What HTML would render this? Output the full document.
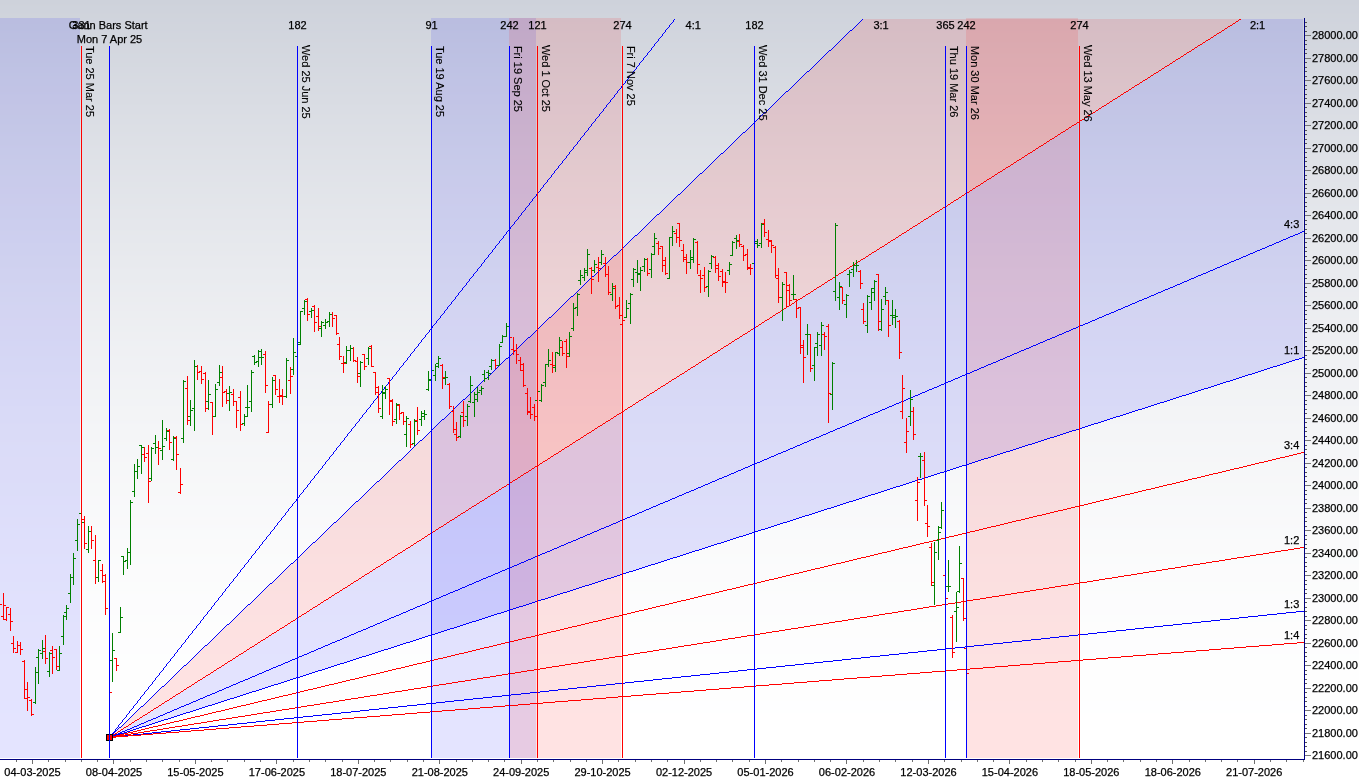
<!DOCTYPE html><html><head><meta charset="utf-8"><title>Gann Chart</title>
<style>html,body{margin:0;padding:0;background:#fff;overflow:hidden;width:1359px;height:778px}svg{display:block}text{font-family:'Liberation Sans',Arial,sans-serif;font-size:11px;fill:#000;stroke:#000;stroke-width:0.25px}text.v{stroke-width:0.12px}</style></head><body>
<svg width="1359" height="778" viewBox="0 0 1359 778">
<defs>
<clipPath id="plot"><rect x="0" y="18" width="1304" height="740"/></clipPath>
<clipPath id="fanclip"><rect x="0" y="19" width="1303" height="739"/></clipPath></defs>
<rect x="0" y="0" width="1359" height="4" fill="#ced2db"/><rect x="0" y="4" width="1359" height="1" fill="#cfd2db"/><rect x="0" y="5" width="1359" height="1" fill="#cfd3db"/><rect x="0" y="6" width="1359" height="7" fill="#cfd3dc"/><rect x="0" y="13" width="1359" height="1" fill="#d0d3dc"/><rect x="0" y="14" width="1359" height="4" fill="#d0d4dc"/><rect x="0" y="18" width="1359" height="4" fill="#d0d4dd"/><rect x="0" y="22" width="1359" height="2" fill="#d1d4dd"/><rect x="0" y="24" width="1359" height="6" fill="#d1d5dd"/><rect x="0" y="30" width="1359" height="1" fill="#d1d5de"/><rect x="0" y="31" width="1359" height="2" fill="#d2d5de"/><rect x="0" y="33" width="1359" height="6" fill="#d2d6de"/><rect x="0" y="39" width="1359" height="3" fill="#d3d6de"/><rect x="0" y="42" width="1359" height="1" fill="#d3d6df"/><rect x="0" y="43" width="1359" height="5" fill="#d3d7df"/><rect x="0" y="48" width="1359" height="5" fill="#d4d7df"/><rect x="0" y="53" width="1359" height="1" fill="#d4d8df"/><rect x="0" y="54" width="1359" height="4" fill="#d4d8e0"/><rect x="0" y="58" width="1359" height="5" fill="#d5d8e0"/><rect x="0" y="63" width="1359" height="4" fill="#d5d9e0"/><rect x="0" y="67" width="1359" height="6" fill="#d6d9e1"/><rect x="0" y="73" width="1359" height="3" fill="#d6dae1"/><rect x="0" y="76" width="1359" height="3" fill="#d7dae1"/><rect x="0" y="79" width="1359" height="4" fill="#d7dae2"/><rect x="0" y="83" width="1359" height="3" fill="#d7dbe2"/><rect x="0" y="86" width="1359" height="6" fill="#d8dbe2"/><rect x="0" y="92" width="1359" height="2" fill="#d8dbe3"/><rect x="0" y="94" width="1359" height="1" fill="#d8dce3"/><rect x="0" y="95" width="1359" height="9" fill="#d9dce3"/><rect x="0" y="104" width="1359" height="1" fill="#d9dde3"/><rect x="0" y="105" width="1359" height="9" fill="#dadde4"/><rect x="0" y="114" width="1359" height="1" fill="#dbdde4"/><rect x="0" y="115" width="1359" height="4" fill="#dbdee4"/><rect x="0" y="119" width="1359" height="5" fill="#dbdee5"/><rect x="0" y="124" width="1359" height="1" fill="#dcdee5"/><rect x="0" y="125" width="1359" height="7" fill="#dcdfe5"/><rect x="0" y="132" width="1359" height="2" fill="#dcdfe6"/><rect x="0" y="134" width="1359" height="2" fill="#dddfe6"/><rect x="0" y="136" width="1359" height="9" fill="#dde0e6"/><rect x="0" y="145" width="1359" height="1" fill="#dee0e6"/><rect x="0" y="146" width="1359" height="2" fill="#dee0e7"/><rect x="0" y="148" width="1359" height="7" fill="#dee1e7"/><rect x="0" y="155" width="1359" height="4" fill="#dfe1e7"/><rect x="0" y="159" width="1359" height="1" fill="#dfe2e7"/><rect x="0" y="160" width="1359" height="5" fill="#dfe2e8"/><rect x="0" y="165" width="1359" height="5" fill="#e0e2e8"/><rect x="0" y="170" width="1359" height="5" fill="#e0e3e8"/><rect x="0" y="175" width="1359" height="1" fill="#e0e3e9"/><rect x="0" y="176" width="1359" height="6" fill="#e1e3e9"/><rect x="0" y="182" width="1359" height="5" fill="#e1e4e9"/><rect x="0" y="187" width="1359" height="2" fill="#e2e4e9"/><rect x="0" y="189" width="1359" height="5" fill="#e2e4ea"/><rect x="0" y="194" width="1359" height="4" fill="#e2e5ea"/><rect x="0" y="198" width="1359" height="6" fill="#e3e5ea"/><rect x="0" y="204" width="1359" height="2" fill="#e3e5eb"/><rect x="0" y="206" width="1359" height="3" fill="#e3e6eb"/><rect x="0" y="209" width="1359" height="9" fill="#e4e6eb"/><rect x="0" y="218" width="1359" height="1" fill="#e4e7eb"/><rect x="0" y="219" width="1359" height="1" fill="#e4e7ec"/><rect x="0" y="220" width="1359" height="10" fill="#e5e7ec"/><rect x="0" y="230" width="1359" height="1" fill="#e5e8ec"/><rect x="0" y="231" width="1359" height="4" fill="#e6e8ec"/><rect x="0" y="235" width="1359" height="8" fill="#e6e8ed"/><rect x="0" y="243" width="1359" height="8" fill="#e7e9ed"/><rect x="0" y="251" width="1359" height="4" fill="#e7e9ee"/><rect x="0" y="255" width="1359" height="1" fill="#e8e9ee"/><rect x="0" y="256" width="1359" height="11" fill="#e8eaee"/><rect x="0" y="267" width="1359" height="1" fill="#e9eaee"/><rect x="0" y="268" width="1359" height="1" fill="#e9eaef"/><rect x="0" y="269" width="1359" height="11" fill="#e9ebef"/><rect x="0" y="280" width="1359" height="3" fill="#eaebef"/><rect x="0" y="283" width="1359" height="2" fill="#eaecef"/><rect x="0" y="285" width="1359" height="7" fill="#eaecf0"/><rect x="0" y="292" width="1359" height="5" fill="#ebecf0"/><rect x="0" y="297" width="1359" height="5" fill="#ebedf0"/><rect x="0" y="302" width="1359" height="3" fill="#ebedf1"/><rect x="0" y="305" width="1359" height="6" fill="#ecedf1"/><rect x="0" y="311" width="1359" height="7" fill="#eceef1"/><rect x="0" y="318" width="1359" height="2" fill="#edeef1"/><rect x="0" y="320" width="1359" height="6" fill="#edeef2"/><rect x="0" y="326" width="1359" height="6" fill="#edeff2"/><rect x="0" y="332" width="1359" height="7" fill="#eeeff2"/><rect x="0" y="339" width="1359" height="2" fill="#eeeff3"/><rect x="0" y="341" width="1359" height="5" fill="#eef0f3"/><rect x="0" y="346" width="1359" height="10" fill="#eff0f3"/><rect x="0" y="356" width="1359" height="2" fill="#eff1f3"/><rect x="0" y="358" width="1359" height="2" fill="#eff1f4"/><rect x="0" y="360" width="1359" height="12" fill="#f0f1f4"/><rect x="0" y="372" width="1359" height="3" fill="#f0f2f4"/><rect x="0" y="375" width="1359" height="3" fill="#f1f2f4"/><rect x="0" y="378" width="1359" height="11" fill="#f1f2f5"/><rect x="0" y="389" width="1359" height="1" fill="#f1f3f5"/><rect x="0" y="390" width="1359" height="9" fill="#f2f3f5"/><rect x="0" y="399" width="1359" height="7" fill="#f2f3f6"/><rect x="0" y="406" width="1359" height="15" fill="#f3f4f6"/><rect x="0" y="421" width="1359" height="2" fill="#f3f4f7"/><rect x="0" y="423" width="1359" height="1" fill="#f4f4f7"/><rect x="0" y="424" width="1359" height="16" fill="#f4f5f7"/><rect x="0" y="440" width="1359" height="2" fill="#f5f5f7"/><rect x="0" y="442" width="1359" height="3" fill="#f5f6f7"/><rect x="0" y="445" width="1359" height="12" fill="#f5f6f8"/><rect x="0" y="457" width="1359" height="5" fill="#f6f6f8"/><rect x="0" y="462" width="1359" height="8" fill="#f6f7f8"/><rect x="0" y="470" width="1359" height="6" fill="#f6f7f9"/><rect x="0" y="476" width="1359" height="7" fill="#f7f7f9"/><rect x="0" y="483" width="1359" height="13" fill="#f7f8f9"/><rect x="0" y="496" width="1359" height="9" fill="#f8f8fa"/><rect x="0" y="505" width="1359" height="12" fill="#f8f9fa"/><rect x="0" y="517" width="1359" height="8" fill="#f9f9fa"/><rect x="0" y="525" width="1359" height="3" fill="#f9f9fb"/><rect x="0" y="528" width="1359" height="11" fill="#f9fafb"/><rect x="0" y="539" width="1359" height="15" fill="#fafafb"/><rect x="0" y="554" width="1359" height="3" fill="#fafbfb"/><rect x="0" y="557" width="1359" height="7" fill="#fafbfc"/><rect x="0" y="564" width="1359" height="18" fill="#fbfbfc"/><rect x="0" y="582" width="1359" height="9" fill="#fbfcfc"/><rect x="0" y="591" width="1359" height="3" fill="#fcfcfc"/><rect x="0" y="594" width="1359" height="21" fill="#fcfcfd"/><rect x="0" y="615" width="1359" height="7" fill="#fcfdfd"/><rect x="0" y="622" width="1359" height="16" fill="#fdfdfd"/><rect x="0" y="638" width="1359" height="16" fill="#fdfdfe"/><rect x="0" y="654" width="1359" height="6" fill="#fdfefe"/><rect x="0" y="660" width="1359" height="41" fill="#fefefe"/><rect x="0" y="701" width="1359" height="9" fill="#fefeff"/><rect x="0" y="710" width="1359" height="3" fill="#feffff"/><rect x="0" y="713" width="1359" height="65" fill="#ffffff"/>
<g clip-path="url(#plot)">
<g clip-path="url(#fanclip)" shape-rendering="crispEdges">
<polygon points="109.50,737.50 900.72,-16.93 1297.57,-16.93" fill="rgba(255,0,0,0.11)"/>
<polygon points="109.50,737.50 1297.57,-16.93 1313,-50 1313,336.95 1363.20,338.45" fill="rgba(0,0,255,0.105)"/>
</g>
<rect x="81" y="46" width="1" height="712" fill="#ff0000"/>
<rect x="109" y="46" width="1" height="712" fill="#0000ff"/>
<rect x="297" y="46" width="1" height="712" fill="#0000ff"/>
<rect x="431" y="46" width="1" height="712" fill="#0000ff"/>
<rect x="509" y="46" width="1" height="712" fill="#0000ff"/>
<rect x="537" y="46" width="1" height="712" fill="#ff0000"/>
<rect x="622" y="46" width="1" height="712" fill="#ff0000"/>
<rect x="754" y="46" width="1" height="712" fill="#0000ff"/>
<rect x="945" y="46" width="1" height="712" fill="#0000ff"/>
<rect x="966" y="46" width="1" height="712" fill="#0000ff"/>
<rect x="1079" y="46" width="1" height="712" fill="#ff0000"/>
<rect x="-5" y="18" width="85" height="740" fill="rgba(0,0,255,0.105)"/>
<rect x="431" y="18" width="105" height="740" fill="rgba(0,0,255,0.105)"/>
<rect x="509" y="18" width="112" height="740" fill="rgba(255,0,0,0.11)"/>
<rect x="966" y="18" width="112" height="740" fill="rgba(255,0,0,0.11)"/>
<path d="M109 737h1v1h-1zM110 736h1v1h-1zM111 734h1v2h-1zM112 733h1v1h-1zM113 732h1v1h-1zM114 731h1v1h-1zM115 729h1v2h-1zM116 728h1v1h-1zM117 727h1v1h-1zM118 725h1v2h-1zM119 724h1v1h-1zM120 723h1v1h-1zM121 722h1v1h-1zM122 720h1v2h-1zM123 719h1v1h-1zM124 718h1v1h-1zM125 717h1v1h-1zM126 715h1v2h-1zM127 714h1v1h-1zM128 713h1v1h-1zM129 711h1v2h-1zM130 710h1v1h-1zM131 709h1v1h-1zM132 708h1v1h-1zM133 706h1v2h-1zM134 705h1v1h-1zM135 704h1v1h-1zM136 703h1v1h-1zM137 701h1v2h-1zM138 700h1v1h-1zM139 699h1v1h-1zM140 697h1v2h-1zM141 696h1v1h-1zM142 695h1v1h-1zM143 694h1v1h-1zM144 692h1v2h-1zM145 691h1v1h-1zM146 690h1v1h-1zM147 689h1v1h-1zM148 687h1v2h-1zM149 686h1v1h-1zM150 685h1v1h-1zM151 684h1v1h-1zM152 682h1v2h-1zM153 681h1v1h-1zM154 680h1v1h-1zM155 678h1v2h-1zM156 677h1v1h-1zM157 676h1v1h-1zM158 675h1v1h-1zM159 673h1v2h-1zM160 672h1v1h-1zM161 671h1v1h-1zM162 670h1v1h-1zM163 668h1v2h-1zM164 667h1v1h-1zM165 666h1v1h-1zM166 664h1v2h-1zM167 663h1v1h-1zM168 662h1v1h-1zM169 661h1v1h-1zM170 659h1v2h-1zM171 658h1v1h-1zM172 657h1v1h-1zM173 656h1v1h-1zM174 654h1v2h-1zM175 653h1v1h-1zM176 652h1v1h-1zM177 650h1v2h-1zM178 649h1v1h-1zM179 648h1v1h-1zM180 647h1v1h-1zM181 645h1v2h-1zM182 644h1v1h-1zM183 643h1v1h-1zM184 642h1v1h-1zM185 640h1v2h-1zM186 639h1v1h-1zM187 638h1v1h-1zM188 636h1v2h-1zM189 635h1v1h-1zM190 634h1v1h-1zM191 633h1v1h-1zM192 631h1v2h-1zM193 630h1v1h-1zM194 629h1v1h-1zM195 628h1v1h-1zM196 626h1v2h-1zM197 625h1v1h-1zM198 624h1v1h-1zM199 623h1v1h-1zM200 621h1v2h-1zM201 620h1v1h-1zM202 619h1v1h-1zM203 617h1v2h-1zM204 616h1v1h-1zM205 615h1v1h-1zM206 614h1v1h-1zM207 612h1v2h-1zM208 611h1v1h-1zM209 610h1v1h-1zM210 609h1v1h-1zM211 607h1v2h-1zM212 606h1v1h-1zM213 605h1v1h-1zM214 603h1v2h-1zM215 602h1v1h-1zM216 601h1v1h-1zM217 600h1v1h-1zM218 598h1v2h-1zM219 597h1v1h-1zM220 596h1v1h-1zM221 595h1v1h-1zM222 593h1v2h-1zM223 592h1v1h-1zM224 591h1v1h-1zM225 589h1v2h-1zM226 588h1v1h-1zM227 587h1v1h-1zM228 586h1v1h-1zM229 584h1v2h-1zM230 583h1v1h-1zM231 582h1v1h-1zM232 581h1v1h-1zM233 579h1v2h-1zM234 578h1v1h-1zM235 577h1v1h-1zM236 576h1v1h-1zM237 574h1v2h-1zM238 573h1v1h-1zM239 572h1v1h-1zM240 570h1v2h-1zM241 569h1v1h-1zM242 568h1v1h-1zM243 567h1v1h-1zM244 565h1v2h-1zM245 564h1v1h-1zM246 563h1v1h-1zM247 562h1v1h-1zM248 560h1v2h-1zM249 559h1v1h-1zM250 558h1v1h-1zM251 556h1v2h-1zM252 555h1v1h-1zM253 554h1v1h-1zM254 553h1v1h-1zM255 551h1v2h-1zM256 550h1v1h-1zM257 549h1v1h-1zM258 548h1v1h-1zM259 546h1v2h-1zM260 545h1v1h-1zM261 544h1v1h-1zM262 542h1v2h-1zM263 541h1v1h-1zM264 540h1v1h-1zM265 539h1v1h-1zM266 537h1v2h-1zM267 536h1v1h-1zM268 535h1v1h-1zM269 534h1v1h-1zM270 532h1v2h-1zM271 531h1v1h-1zM272 530h1v1h-1zM273 529h1v1h-1zM274 527h1v2h-1zM275 526h1v1h-1zM276 525h1v1h-1zM277 523h1v2h-1zM278 522h1v1h-1zM279 521h1v1h-1zM280 520h1v1h-1zM281 518h1v2h-1zM282 517h1v1h-1zM283 516h1v1h-1zM284 515h1v1h-1zM285 513h1v2h-1zM286 512h1v1h-1zM287 511h1v1h-1zM288 509h1v2h-1zM289 508h1v1h-1zM290 507h1v1h-1zM291 506h1v1h-1zM292 504h1v2h-1zM293 503h1v1h-1zM294 502h1v1h-1zM295 501h1v1h-1zM296 499h1v2h-1zM297 498h1v1h-1zM298 497h1v1h-1zM299 495h1v2h-1zM300 494h1v1h-1zM301 493h1v1h-1zM302 492h1v1h-1zM303 490h1v2h-1zM304 489h1v1h-1zM305 488h1v1h-1zM306 487h1v1h-1zM307 485h1v2h-1zM308 484h1v1h-1zM309 483h1v1h-1zM310 481h1v2h-1zM311 480h1v1h-1zM312 479h1v1h-1zM313 478h1v1h-1zM314 476h1v2h-1zM315 475h1v1h-1zM316 474h1v1h-1zM317 473h1v1h-1zM318 471h1v2h-1zM319 470h1v1h-1zM320 469h1v1h-1zM321 468h1v1h-1zM322 466h1v2h-1zM323 465h1v1h-1zM324 464h1v1h-1zM325 462h1v2h-1zM326 461h1v1h-1zM327 460h1v1h-1zM328 459h1v1h-1zM329 457h1v2h-1zM330 456h1v1h-1zM331 455h1v1h-1zM332 454h1v1h-1zM333 452h1v2h-1zM334 451h1v1h-1zM335 450h1v1h-1zM336 448h1v2h-1zM337 447h1v1h-1zM338 446h1v1h-1zM339 445h1v1h-1zM340 443h1v2h-1zM341 442h1v1h-1zM342 441h1v1h-1zM343 440h1v1h-1zM344 438h1v2h-1zM345 437h1v1h-1zM346 436h1v1h-1zM347 434h1v2h-1zM348 433h1v1h-1zM349 432h1v1h-1zM350 431h1v1h-1zM351 429h1v2h-1zM352 428h1v1h-1zM353 427h1v1h-1zM354 426h1v1h-1zM355 424h1v2h-1zM356 423h1v1h-1zM357 422h1v1h-1zM358 421h1v1h-1zM359 419h1v2h-1zM360 418h1v1h-1zM361 417h1v1h-1zM362 415h1v2h-1zM363 414h1v1h-1zM364 413h1v1h-1zM365 412h1v1h-1zM366 410h1v2h-1zM367 409h1v1h-1zM368 408h1v1h-1zM369 407h1v1h-1zM370 405h1v2h-1zM371 404h1v1h-1zM372 403h1v1h-1zM373 401h1v2h-1zM374 400h1v1h-1zM375 399h1v1h-1zM376 398h1v1h-1zM377 396h1v2h-1zM378 395h1v1h-1zM379 394h1v1h-1zM380 393h1v1h-1zM381 391h1v2h-1zM382 390h1v1h-1zM383 389h1v1h-1zM384 387h1v2h-1zM385 386h1v1h-1zM386 385h1v1h-1zM387 384h1v1h-1zM388 382h1v2h-1zM389 381h1v1h-1zM390 380h1v1h-1zM391 379h1v1h-1zM392 377h1v2h-1zM393 376h1v1h-1zM394 375h1v1h-1zM395 374h1v1h-1zM396 372h1v2h-1zM397 371h1v1h-1zM398 370h1v1h-1zM399 368h1v2h-1zM400 367h1v1h-1zM401 366h1v1h-1zM402 365h1v1h-1zM403 363h1v2h-1zM404 362h1v1h-1zM405 361h1v1h-1zM406 360h1v1h-1zM407 358h1v2h-1zM408 357h1v1h-1zM409 356h1v1h-1zM410 354h1v2h-1zM411 353h1v1h-1zM412 352h1v1h-1zM413 351h1v1h-1zM414 349h1v2h-1zM415 348h1v1h-1zM416 347h1v1h-1zM417 346h1v1h-1zM418 344h1v2h-1zM419 343h1v1h-1zM420 342h1v1h-1zM421 340h1v2h-1zM422 339h1v1h-1zM423 338h1v1h-1zM424 337h1v1h-1zM425 335h1v2h-1zM426 334h1v1h-1zM427 333h1v1h-1zM428 332h1v1h-1zM429 330h1v2h-1zM430 329h1v1h-1zM431 328h1v1h-1zM432 326h1v2h-1zM433 325h1v1h-1zM434 324h1v1h-1zM435 323h1v1h-1zM436 321h1v2h-1zM437 320h1v1h-1zM438 319h1v1h-1zM439 318h1v1h-1zM440 316h1v2h-1zM441 315h1v1h-1zM442 314h1v1h-1zM443 313h1v1h-1zM444 311h1v2h-1zM445 310h1v1h-1zM446 309h1v1h-1zM447 307h1v2h-1zM448 306h1v1h-1zM449 305h1v1h-1zM450 304h1v1h-1zM451 302h1v2h-1zM452 301h1v1h-1zM453 300h1v1h-1zM454 299h1v1h-1zM455 297h1v2h-1zM456 296h1v1h-1zM457 295h1v1h-1zM458 293h1v2h-1zM459 292h1v1h-1zM460 291h1v1h-1zM461 290h1v1h-1zM462 288h1v2h-1zM463 287h1v1h-1zM464 286h1v1h-1zM465 285h1v1h-1zM466 283h1v2h-1zM467 282h1v1h-1zM468 281h1v1h-1zM469 279h1v2h-1zM470 278h1v1h-1zM471 277h1v1h-1zM472 276h1v1h-1zM473 274h1v2h-1zM474 273h1v1h-1zM475 272h1v1h-1zM476 271h1v1h-1zM477 269h1v2h-1zM478 268h1v1h-1zM479 267h1v1h-1zM480 266h1v1h-1zM481 264h1v2h-1zM482 263h1v1h-1zM483 262h1v1h-1zM484 260h1v2h-1zM485 259h1v1h-1zM486 258h1v1h-1zM487 257h1v1h-1zM488 255h1v2h-1zM489 254h1v1h-1zM490 253h1v1h-1zM491 252h1v1h-1zM492 250h1v2h-1zM493 249h1v1h-1zM494 248h1v1h-1zM495 246h1v2h-1zM496 245h1v1h-1zM497 244h1v1h-1zM498 243h1v1h-1zM499 241h1v2h-1zM500 240h1v1h-1zM501 239h1v1h-1zM502 238h1v1h-1zM503 236h1v2h-1zM504 235h1v1h-1zM505 234h1v1h-1zM506 232h1v2h-1zM507 231h1v1h-1zM508 230h1v1h-1zM509 229h1v1h-1zM510 227h1v2h-1zM511 226h1v1h-1zM512 225h1v1h-1zM513 224h1v1h-1zM514 222h1v2h-1zM515 221h1v1h-1zM516 220h1v1h-1zM517 219h1v1h-1zM518 217h1v2h-1zM519 216h1v1h-1zM520 215h1v1h-1zM521 213h1v2h-1zM522 212h1v1h-1zM523 211h1v1h-1zM524 210h1v1h-1zM525 208h1v2h-1zM526 207h1v1h-1zM527 206h1v1h-1zM528 205h1v1h-1zM529 203h1v2h-1zM530 202h1v1h-1zM531 201h1v1h-1zM532 199h1v2h-1zM533 198h1v1h-1zM534 197h1v1h-1zM535 196h1v1h-1zM536 194h1v2h-1zM537 193h1v1h-1zM538 192h1v1h-1zM539 191h1v1h-1zM540 189h1v2h-1zM541 188h1v1h-1zM542 187h1v1h-1zM543 185h1v2h-1zM544 184h1v1h-1zM545 183h1v1h-1zM546 182h1v1h-1zM547 180h1v2h-1zM548 179h1v1h-1zM549 178h1v1h-1zM550 177h1v1h-1zM551 175h1v2h-1zM552 174h1v1h-1zM553 173h1v1h-1zM554 171h1v2h-1zM555 170h1v1h-1zM556 169h1v1h-1zM557 168h1v1h-1zM558 166h1v2h-1zM559 165h1v1h-1zM560 164h1v1h-1zM561 163h1v1h-1zM562 161h1v2h-1zM563 160h1v1h-1zM564 159h1v1h-1zM565 158h1v1h-1zM566 156h1v2h-1zM567 155h1v1h-1zM568 154h1v1h-1zM569 152h1v2h-1zM570 151h1v1h-1zM571 150h1v1h-1zM572 149h1v1h-1zM573 147h1v2h-1zM574 146h1v1h-1zM575 145h1v1h-1zM576 144h1v1h-1zM577 142h1v2h-1zM578 141h1v1h-1zM579 140h1v1h-1zM580 138h1v2h-1zM581 137h1v1h-1zM582 136h1v1h-1zM583 135h1v1h-1zM584 133h1v2h-1zM585 132h1v1h-1zM586 131h1v1h-1zM587 130h1v1h-1zM588 128h1v2h-1zM589 127h1v1h-1zM590 126h1v1h-1zM591 124h1v2h-1zM592 123h1v1h-1zM593 122h1v1h-1zM594 121h1v1h-1zM595 119h1v2h-1zM596 118h1v1h-1zM597 117h1v1h-1zM598 116h1v1h-1zM599 114h1v2h-1zM600 113h1v1h-1zM601 112h1v1h-1zM602 111h1v1h-1zM603 109h1v2h-1zM604 108h1v1h-1zM605 107h1v1h-1zM606 105h1v2h-1zM607 104h1v1h-1zM608 103h1v1h-1zM609 102h1v1h-1zM610 100h1v2h-1zM611 99h1v1h-1zM612 98h1v1h-1zM613 97h1v1h-1zM614 95h1v2h-1zM615 94h1v1h-1zM616 93h1v1h-1zM617 91h1v2h-1zM618 90h1v1h-1zM619 89h1v1h-1zM620 88h1v1h-1zM621 86h1v2h-1zM622 85h1v1h-1zM623 84h1v1h-1zM624 83h1v1h-1zM625 81h1v2h-1zM626 80h1v1h-1zM627 79h1v1h-1zM628 77h1v2h-1zM629 76h1v1h-1zM630 75h1v1h-1zM631 74h1v1h-1zM632 72h1v2h-1zM633 71h1v1h-1zM634 70h1v1h-1zM635 69h1v1h-1zM636 67h1v2h-1zM637 66h1v1h-1zM638 65h1v1h-1zM639 63h1v2h-1zM640 62h1v1h-1zM641 61h1v1h-1zM642 60h1v1h-1zM643 58h1v2h-1zM644 57h1v1h-1zM645 56h1v1h-1zM646 55h1v1h-1zM647 53h1v2h-1zM648 52h1v1h-1zM649 51h1v1h-1zM650 50h1v1h-1zM651 48h1v2h-1zM652 47h1v1h-1zM653 46h1v1h-1zM654 44h1v2h-1zM655 43h1v1h-1zM656 42h1v1h-1zM657 41h1v1h-1zM658 39h1v2h-1zM659 38h1v1h-1zM660 37h1v1h-1zM661 36h1v1h-1zM662 34h1v2h-1zM663 33h1v1h-1zM664 32h1v1h-1zM665 30h1v2h-1zM666 29h1v1h-1zM667 28h1v1h-1zM668 27h1v1h-1zM669 25h1v2h-1zM670 24h1v1h-1zM671 23h1v1h-1zM672 22h1v1h-1zM673 20h1v2h-1zM674 19h1v1h-1zM110 736h1v1h-1zM111 735h1v1h-1zM112 734h1v1h-1zM113 733h1v1h-1zM114 732h1v1h-1zM115 731h1v1h-1zM116 730h1v1h-1zM117 729h1v1h-1zM118 728h1v1h-1zM119 727h2v1h-2zM121 726h1v1h-1zM122 725h1v1h-1zM123 724h1v1h-1zM124 723h1v1h-1zM125 722h1v1h-1zM126 721h1v1h-1zM127 720h1v1h-1zM128 719h1v1h-1zM129 718h1v1h-1zM130 717h1v1h-1zM131 716h1v1h-1zM132 715h1v1h-1zM133 714h1v1h-1zM134 713h1v1h-1zM135 712h1v1h-1zM136 711h1v1h-1zM137 710h1v1h-1zM138 709h1v1h-1zM139 708h1v1h-1zM140 707h1v1h-1zM141 706h2v1h-2zM143 705h1v1h-1zM144 704h1v1h-1zM145 703h1v1h-1zM146 702h1v1h-1zM147 701h1v1h-1zM148 700h1v1h-1zM149 699h1v1h-1zM150 698h1v1h-1zM151 697h1v1h-1zM152 696h1v1h-1zM153 695h1v1h-1zM154 694h1v1h-1zM155 693h1v1h-1zM156 692h1v1h-1zM157 691h1v1h-1zM158 690h1v1h-1zM159 689h1v1h-1zM160 688h1v1h-1zM161 687h1v1h-1zM162 686h2v1h-2zM164 685h1v1h-1zM165 684h1v1h-1zM166 683h1v1h-1zM167 682h1v1h-1zM168 681h1v1h-1zM169 680h1v1h-1zM170 679h1v1h-1zM171 678h1v1h-1zM172 677h1v1h-1zM173 676h1v1h-1zM174 675h1v1h-1zM175 674h1v1h-1zM176 673h1v1h-1zM177 672h1v1h-1zM178 671h1v1h-1zM179 670h1v1h-1zM180 669h1v1h-1zM181 668h1v1h-1zM182 667h1v1h-1zM183 666h1v1h-1zM184 665h2v1h-2zM186 664h1v1h-1zM187 663h1v1h-1zM188 662h1v1h-1zM189 661h1v1h-1zM190 660h1v1h-1zM191 659h1v1h-1zM192 658h1v1h-1zM193 657h1v1h-1zM194 656h1v1h-1zM195 655h1v1h-1zM196 654h1v1h-1zM197 653h1v1h-1zM198 652h1v1h-1zM199 651h1v1h-1zM200 650h1v1h-1zM201 649h1v1h-1zM202 648h1v1h-1zM203 647h1v1h-1zM204 646h1v1h-1zM205 645h2v1h-2zM207 644h1v1h-1zM208 643h1v1h-1zM209 642h1v1h-1zM210 641h1v1h-1zM211 640h1v1h-1zM212 639h1v1h-1zM213 638h1v1h-1zM214 637h1v1h-1zM215 636h1v1h-1zM216 635h1v1h-1zM217 634h1v1h-1zM218 633h1v1h-1zM219 632h1v1h-1zM220 631h1v1h-1zM221 630h1v1h-1zM222 629h1v1h-1zM223 628h1v1h-1zM224 627h1v1h-1zM225 626h1v1h-1zM226 625h1v1h-1zM227 624h2v1h-2zM229 623h1v1h-1zM230 622h1v1h-1zM231 621h1v1h-1zM232 620h1v1h-1zM233 619h1v1h-1zM234 618h1v1h-1zM235 617h1v1h-1zM236 616h1v1h-1zM237 615h1v1h-1zM238 614h1v1h-1zM239 613h1v1h-1zM240 612h1v1h-1zM241 611h1v1h-1zM242 610h1v1h-1zM243 609h1v1h-1zM244 608h1v1h-1zM245 607h1v1h-1zM246 606h1v1h-1zM247 605h1v1h-1zM248 604h2v1h-2zM250 603h1v1h-1zM251 602h1v1h-1zM252 601h1v1h-1zM253 600h1v1h-1zM254 599h1v1h-1zM255 598h1v1h-1zM256 597h1v1h-1zM257 596h1v1h-1zM258 595h1v1h-1zM259 594h1v1h-1zM260 593h1v1h-1zM261 592h1v1h-1zM262 591h1v1h-1zM263 590h1v1h-1zM264 589h1v1h-1zM265 588h1v1h-1zM266 587h1v1h-1zM267 586h1v1h-1zM268 585h1v1h-1zM269 584h1v1h-1zM270 583h2v1h-2zM272 582h1v1h-1zM273 581h1v1h-1zM274 580h1v1h-1zM275 579h1v1h-1zM276 578h1v1h-1zM277 577h1v1h-1zM278 576h1v1h-1zM279 575h1v1h-1zM280 574h1v1h-1zM281 573h1v1h-1zM282 572h1v1h-1zM283 571h1v1h-1zM284 570h1v1h-1zM285 569h1v1h-1zM286 568h1v1h-1zM287 567h1v1h-1zM288 566h1v1h-1zM289 565h1v1h-1zM290 564h1v1h-1zM291 563h2v1h-2zM293 562h1v1h-1zM294 561h1v1h-1zM295 560h1v1h-1zM296 559h1v1h-1zM297 558h1v1h-1zM298 557h1v1h-1zM299 556h1v1h-1zM300 555h1v1h-1zM301 554h1v1h-1zM302 553h1v1h-1zM303 552h1v1h-1zM304 551h1v1h-1zM305 550h1v1h-1zM306 549h1v1h-1zM307 548h1v1h-1zM308 547h1v1h-1zM309 546h1v1h-1zM310 545h1v1h-1zM311 544h1v1h-1zM312 543h1v1h-1zM313 542h2v1h-2zM315 541h1v1h-1zM316 540h1v1h-1zM317 539h1v1h-1zM318 538h1v1h-1zM319 537h1v1h-1zM320 536h1v1h-1zM321 535h1v1h-1zM322 534h1v1h-1zM323 533h1v1h-1zM324 532h1v1h-1zM325 531h1v1h-1zM326 530h1v1h-1zM327 529h1v1h-1zM328 528h1v1h-1zM329 527h1v1h-1zM330 526h1v1h-1zM331 525h1v1h-1zM332 524h1v1h-1zM333 523h1v1h-1zM334 522h2v1h-2zM336 521h1v1h-1zM337 520h1v1h-1zM338 519h1v1h-1zM339 518h1v1h-1zM340 517h1v1h-1zM341 516h1v1h-1zM342 515h1v1h-1zM343 514h1v1h-1zM344 513h1v1h-1zM345 512h1v1h-1zM346 511h1v1h-1zM347 510h1v1h-1zM348 509h1v1h-1zM349 508h1v1h-1zM350 507h1v1h-1zM351 506h1v1h-1zM352 505h1v1h-1zM353 504h1v1h-1zM354 503h1v1h-1zM355 502h1v1h-1zM356 501h2v1h-2zM358 500h1v1h-1zM359 499h1v1h-1zM360 498h1v1h-1zM361 497h1v1h-1zM362 496h1v1h-1zM363 495h1v1h-1zM364 494h1v1h-1zM365 493h1v1h-1zM366 492h1v1h-1zM367 491h1v1h-1zM368 490h1v1h-1zM369 489h1v1h-1zM370 488h1v1h-1zM371 487h1v1h-1zM372 486h1v1h-1zM373 485h1v1h-1zM374 484h1v1h-1zM375 483h1v1h-1zM376 482h1v1h-1zM377 481h2v1h-2zM379 480h1v1h-1zM380 479h1v1h-1zM381 478h1v1h-1zM382 477h1v1h-1zM383 476h1v1h-1zM384 475h1v1h-1zM385 474h1v1h-1zM386 473h1v1h-1zM387 472h1v1h-1zM388 471h1v1h-1zM389 470h1v1h-1zM390 469h1v1h-1zM391 468h1v1h-1zM392 467h1v1h-1zM393 466h1v1h-1zM394 465h1v1h-1zM395 464h1v1h-1zM396 463h1v1h-1zM397 462h1v1h-1zM398 461h1v1h-1zM399 460h2v1h-2zM401 459h1v1h-1zM402 458h1v1h-1zM403 457h1v1h-1zM404 456h1v1h-1zM405 455h1v1h-1zM406 454h1v1h-1zM407 453h1v1h-1zM408 452h1v1h-1zM409 451h1v1h-1zM410 450h1v1h-1zM411 449h1v1h-1zM412 448h1v1h-1zM413 447h1v1h-1zM414 446h1v1h-1zM415 445h1v1h-1zM416 444h1v1h-1zM417 443h1v1h-1zM418 442h1v1h-1zM419 441h1v1h-1zM420 440h2v1h-2zM422 439h1v1h-1zM423 438h1v1h-1zM424 437h1v1h-1zM425 436h1v1h-1zM426 435h1v1h-1zM427 434h1v1h-1zM428 433h1v1h-1zM429 432h1v1h-1zM430 431h1v1h-1zM431 430h1v1h-1zM432 429h1v1h-1zM433 428h1v1h-1zM434 427h1v1h-1zM435 426h1v1h-1zM436 425h1v1h-1zM437 424h1v1h-1zM438 423h1v1h-1zM439 422h1v1h-1zM440 421h1v1h-1zM441 420h1v1h-1zM442 419h2v1h-2zM444 418h1v1h-1zM445 417h1v1h-1zM446 416h1v1h-1zM447 415h1v1h-1zM448 414h1v1h-1zM449 413h1v1h-1zM450 412h1v1h-1zM451 411h1v1h-1zM452 410h1v1h-1zM453 409h1v1h-1zM454 408h1v1h-1zM455 407h1v1h-1zM456 406h1v1h-1zM457 405h1v1h-1zM458 404h1v1h-1zM459 403h1v1h-1zM460 402h1v1h-1zM461 401h1v1h-1zM462 400h1v1h-1zM463 399h2v1h-2zM465 398h1v1h-1zM466 397h1v1h-1zM467 396h1v1h-1zM468 395h1v1h-1zM469 394h1v1h-1zM470 393h1v1h-1zM471 392h1v1h-1zM472 391h1v1h-1zM473 390h1v1h-1zM474 389h1v1h-1zM475 388h1v1h-1zM476 387h1v1h-1zM477 386h1v1h-1zM478 385h1v1h-1zM479 384h1v1h-1zM480 383h1v1h-1zM481 382h1v1h-1zM482 381h1v1h-1zM483 380h1v1h-1zM484 379h1v1h-1zM485 378h2v1h-2zM487 377h1v1h-1zM488 376h1v1h-1zM489 375h1v1h-1zM490 374h1v1h-1zM491 373h1v1h-1zM492 372h1v1h-1zM493 371h1v1h-1zM494 370h1v1h-1zM495 369h1v1h-1zM496 368h1v1h-1zM497 367h1v1h-1zM498 366h1v1h-1zM499 365h1v1h-1zM500 364h1v1h-1zM501 363h1v1h-1zM502 362h1v1h-1zM503 361h1v1h-1zM504 360h1v1h-1zM505 359h1v1h-1zM506 358h2v1h-2zM508 357h1v1h-1zM509 356h1v1h-1zM510 355h1v1h-1zM511 354h1v1h-1zM512 353h1v1h-1zM513 352h1v1h-1zM514 351h1v1h-1zM515 350h1v1h-1zM516 349h1v1h-1zM517 348h1v1h-1zM518 347h1v1h-1zM519 346h1v1h-1zM520 345h1v1h-1zM521 344h1v1h-1zM522 343h1v1h-1zM523 342h1v1h-1zM524 341h1v1h-1zM525 340h1v1h-1zM526 339h1v1h-1zM527 338h1v1h-1zM528 337h2v1h-2zM530 336h1v1h-1zM531 335h1v1h-1zM532 334h1v1h-1zM533 333h1v1h-1zM534 332h1v1h-1zM535 331h1v1h-1zM536 330h1v1h-1zM537 329h1v1h-1zM538 328h1v1h-1zM539 327h1v1h-1zM540 326h1v1h-1zM541 325h1v1h-1zM542 324h1v1h-1zM543 323h1v1h-1zM544 322h1v1h-1zM545 321h1v1h-1zM546 320h1v1h-1zM547 319h1v1h-1zM548 318h1v1h-1zM549 317h2v1h-2zM551 316h1v1h-1zM552 315h1v1h-1zM553 314h1v1h-1zM554 313h1v1h-1zM555 312h1v1h-1zM556 311h1v1h-1zM557 310h1v1h-1zM558 309h1v1h-1zM559 308h1v1h-1zM560 307h1v1h-1zM561 306h1v1h-1zM562 305h1v1h-1zM563 304h1v1h-1zM564 303h1v1h-1zM565 302h1v1h-1zM566 301h1v1h-1zM567 300h1v1h-1zM568 299h1v1h-1zM569 298h1v1h-1zM570 297h1v1h-1zM571 296h2v1h-2zM573 295h1v1h-1zM574 294h1v1h-1zM575 293h1v1h-1zM576 292h1v1h-1zM577 291h1v1h-1zM578 290h1v1h-1zM579 289h1v1h-1zM580 288h1v1h-1zM581 287h1v1h-1zM582 286h1v1h-1zM583 285h1v1h-1zM584 284h1v1h-1zM585 283h1v1h-1zM586 282h1v1h-1zM587 281h1v1h-1zM588 280h1v1h-1zM589 279h1v1h-1zM590 278h1v1h-1zM591 277h1v1h-1zM592 276h2v1h-2zM594 275h1v1h-1zM595 274h1v1h-1zM596 273h1v1h-1zM597 272h1v1h-1zM598 271h1v1h-1zM599 270h1v1h-1zM600 269h1v1h-1zM601 268h1v1h-1zM602 267h1v1h-1zM603 266h1v1h-1zM604 265h1v1h-1zM605 264h1v1h-1zM606 263h1v1h-1zM607 262h1v1h-1zM608 261h1v1h-1zM609 260h1v1h-1zM610 259h1v1h-1zM611 258h1v1h-1zM612 257h1v1h-1zM613 256h1v1h-1zM614 255h2v1h-2zM616 254h1v1h-1zM617 253h1v1h-1zM618 252h1v1h-1zM619 251h1v1h-1zM620 250h1v1h-1zM621 249h1v1h-1zM622 248h1v1h-1zM623 247h1v1h-1zM624 246h1v1h-1zM625 245h1v1h-1zM626 244h1v1h-1zM627 243h1v1h-1zM628 242h1v1h-1zM629 241h1v1h-1zM630 240h1v1h-1zM631 239h1v1h-1zM632 238h1v1h-1zM633 237h1v1h-1zM634 236h1v1h-1zM635 235h2v1h-2zM637 234h1v1h-1zM638 233h1v1h-1zM639 232h1v1h-1zM640 231h1v1h-1zM641 230h1v1h-1zM642 229h1v1h-1zM643 228h1v1h-1zM644 227h1v1h-1zM645 226h1v1h-1zM646 225h1v1h-1zM647 224h1v1h-1zM648 223h1v1h-1zM649 222h1v1h-1zM650 221h1v1h-1zM651 220h1v1h-1zM652 219h1v1h-1zM653 218h1v1h-1zM654 217h1v1h-1zM655 216h1v1h-1zM656 215h1v1h-1zM657 214h2v1h-2zM659 213h1v1h-1zM660 212h1v1h-1zM661 211h1v1h-1zM662 210h1v1h-1zM663 209h1v1h-1zM664 208h1v1h-1zM665 207h1v1h-1zM666 206h1v1h-1zM667 205h1v1h-1zM668 204h1v1h-1zM669 203h1v1h-1zM670 202h1v1h-1zM671 201h1v1h-1zM672 200h1v1h-1zM673 199h1v1h-1zM674 198h1v1h-1zM675 197h1v1h-1zM676 196h1v1h-1zM677 195h1v1h-1zM678 194h2v1h-2zM680 193h1v1h-1zM681 192h1v1h-1zM682 191h1v1h-1zM683 190h1v1h-1zM684 189h1v1h-1zM685 188h1v1h-1zM686 187h1v1h-1zM687 186h1v1h-1zM688 185h1v1h-1zM689 184h1v1h-1zM690 183h1v1h-1zM691 182h1v1h-1zM692 181h1v1h-1zM693 180h1v1h-1zM694 179h1v1h-1zM695 178h1v1h-1zM696 177h1v1h-1zM697 176h1v1h-1zM698 175h1v1h-1zM699 174h1v1h-1zM700 173h2v1h-2zM702 172h1v1h-1zM703 171h1v1h-1zM704 170h1v1h-1zM705 169h1v1h-1zM706 168h1v1h-1zM707 167h1v1h-1zM708 166h1v1h-1zM709 165h1v1h-1zM710 164h1v1h-1zM711 163h1v1h-1zM712 162h1v1h-1zM713 161h1v1h-1zM714 160h1v1h-1zM715 159h1v1h-1zM716 158h1v1h-1zM717 157h1v1h-1zM718 156h1v1h-1zM719 155h1v1h-1zM720 154h1v1h-1zM721 153h2v1h-2zM723 152h1v1h-1zM724 151h1v1h-1zM725 150h1v1h-1zM726 149h1v1h-1zM727 148h1v1h-1zM728 147h1v1h-1zM729 146h1v1h-1zM730 145h1v1h-1zM731 144h1v1h-1zM732 143h1v1h-1zM733 142h1v1h-1zM734 141h1v1h-1zM735 140h1v1h-1zM736 139h1v1h-1zM737 138h1v1h-1zM738 137h1v1h-1zM739 136h1v1h-1zM740 135h1v1h-1zM741 134h1v1h-1zM742 133h1v1h-1zM743 132h2v1h-2zM745 131h1v1h-1zM746 130h1v1h-1zM747 129h1v1h-1zM748 128h1v1h-1zM749 127h1v1h-1zM750 126h1v1h-1zM751 125h1v1h-1zM752 124h1v1h-1zM753 123h1v1h-1zM754 122h1v1h-1zM755 121h1v1h-1zM756 120h1v1h-1zM757 119h1v1h-1zM758 118h1v1h-1zM759 117h1v1h-1zM760 116h1v1h-1zM761 115h1v1h-1zM762 114h1v1h-1zM763 113h1v1h-1zM764 112h2v1h-2zM766 111h1v1h-1zM767 110h1v1h-1zM768 109h1v1h-1zM769 108h1v1h-1zM770 107h1v1h-1zM771 106h1v1h-1zM772 105h1v1h-1zM773 104h1v1h-1zM774 103h1v1h-1zM775 102h1v1h-1zM776 101h1v1h-1zM777 100h1v1h-1zM778 99h1v1h-1zM779 98h1v1h-1zM780 97h1v1h-1zM781 96h1v1h-1zM782 95h1v1h-1zM783 94h1v1h-1zM784 93h1v1h-1zM785 92h1v1h-1zM786 91h2v1h-2zM788 90h1v1h-1zM789 89h1v1h-1zM790 88h1v1h-1zM791 87h1v1h-1zM792 86h1v1h-1zM793 85h1v1h-1zM794 84h1v1h-1zM795 83h1v1h-1zM796 82h1v1h-1zM797 81h1v1h-1zM798 80h1v1h-1zM799 79h1v1h-1zM800 78h1v1h-1zM801 77h1v1h-1zM802 76h1v1h-1zM803 75h1v1h-1zM804 74h1v1h-1zM805 73h1v1h-1zM806 72h1v1h-1zM807 71h2v1h-2zM809 70h1v1h-1zM810 69h1v1h-1zM811 68h1v1h-1zM812 67h1v1h-1zM813 66h1v1h-1zM814 65h1v1h-1zM815 64h1v1h-1zM816 63h1v1h-1zM817 62h1v1h-1zM818 61h1v1h-1zM819 60h1v1h-1zM820 59h1v1h-1zM821 58h1v1h-1zM822 57h1v1h-1zM823 56h1v1h-1zM824 55h1v1h-1zM825 54h1v1h-1zM826 53h1v1h-1zM827 52h1v1h-1zM828 51h1v1h-1zM829 50h2v1h-2zM831 49h1v1h-1zM832 48h1v1h-1zM833 47h1v1h-1zM834 46h1v1h-1zM835 45h1v1h-1zM836 44h1v1h-1zM837 43h1v1h-1zM838 42h1v1h-1zM839 41h1v1h-1zM840 40h1v1h-1zM841 39h1v1h-1zM842 38h1v1h-1zM843 37h1v1h-1zM844 36h1v1h-1zM845 35h1v1h-1zM846 34h1v1h-1zM847 33h1v1h-1zM848 32h1v1h-1zM849 31h1v1h-1zM850 30h2v1h-2zM852 29h1v1h-1zM853 28h1v1h-1zM854 27h1v1h-1zM855 26h1v1h-1zM856 25h1v1h-1zM857 24h1v1h-1zM858 23h1v1h-1zM859 22h1v1h-1zM860 21h1v1h-1zM861 20h1v1h-1zM862 19h1v1h-1zM110 737h1v1h-1zM111 736h2v1h-2zM113 735h2v1h-2zM115 734h3v1h-3zM118 733h2v1h-2zM120 732h2v1h-2zM122 731h3v1h-3zM125 730h2v1h-2zM127 729h3v1h-3zM130 728h2v1h-2zM132 727h2v1h-2zM134 726h3v1h-3zM137 725h2v1h-2zM139 724h2v1h-2zM141 723h3v1h-3zM144 722h2v1h-2zM146 721h2v1h-2zM148 720h3v1h-3zM151 719h2v1h-2zM153 718h3v1h-3zM156 717h2v1h-2zM158 716h2v1h-2zM160 715h3v1h-3zM163 714h2v1h-2zM165 713h2v1h-2zM167 712h3v1h-3zM170 711h2v1h-2zM172 710h2v1h-2zM174 709h3v1h-3zM177 708h2v1h-2zM179 707h2v1h-2zM181 706h3v1h-3zM184 705h2v1h-2zM186 704h3v1h-3zM189 703h2v1h-2zM191 702h2v1h-2zM193 701h3v1h-3zM196 700h2v1h-2zM198 699h2v1h-2zM200 698h3v1h-3zM203 697h2v1h-2zM205 696h2v1h-2zM207 695h3v1h-3zM210 694h2v1h-2zM212 693h3v1h-3zM215 692h2v1h-2zM217 691h2v1h-2zM219 690h3v1h-3zM222 689h2v1h-2zM224 688h2v1h-2zM226 687h3v1h-3zM229 686h2v1h-2zM231 685h2v1h-2zM233 684h3v1h-3zM236 683h2v1h-2zM238 682h2v1h-2zM240 681h3v1h-3zM243 680h2v1h-2zM245 679h3v1h-3zM248 678h2v1h-2zM250 677h2v1h-2zM252 676h3v1h-3zM255 675h2v1h-2zM257 674h2v1h-2zM259 673h3v1h-3zM262 672h2v1h-2zM264 671h2v1h-2zM266 670h3v1h-3zM269 669h2v1h-2zM271 668h2v1h-2zM273 667h3v1h-3zM276 666h2v1h-2zM278 665h3v1h-3zM281 664h2v1h-2zM283 663h2v1h-2zM285 662h3v1h-3zM288 661h2v1h-2zM290 660h2v1h-2zM292 659h3v1h-3zM295 658h2v1h-2zM297 657h2v1h-2zM299 656h3v1h-3zM302 655h2v1h-2zM304 654h3v1h-3zM307 653h2v1h-2zM309 652h2v1h-2zM311 651h3v1h-3zM314 650h2v1h-2zM316 649h2v1h-2zM318 648h3v1h-3zM321 647h2v1h-2zM323 646h2v1h-2zM325 645h3v1h-3zM328 644h2v1h-2zM330 643h2v1h-2zM332 642h3v1h-3zM335 641h2v1h-2zM337 640h3v1h-3zM340 639h2v1h-2zM342 638h2v1h-2zM344 637h3v1h-3zM347 636h2v1h-2zM349 635h2v1h-2zM351 634h3v1h-3zM354 633h2v1h-2zM356 632h2v1h-2zM358 631h3v1h-3zM361 630h2v1h-2zM363 629h3v1h-3zM366 628h2v1h-2zM368 627h2v1h-2zM370 626h3v1h-3zM373 625h2v1h-2zM375 624h2v1h-2zM377 623h3v1h-3zM380 622h2v1h-2zM382 621h2v1h-2zM384 620h3v1h-3zM387 619h2v1h-2zM389 618h2v1h-2zM391 617h3v1h-3zM394 616h2v1h-2zM396 615h3v1h-3zM399 614h2v1h-2zM401 613h2v1h-2zM403 612h3v1h-3zM406 611h2v1h-2zM408 610h2v1h-2zM410 609h3v1h-3zM413 608h2v1h-2zM415 607h2v1h-2zM417 606h3v1h-3zM420 605h2v1h-2zM422 604h3v1h-3zM425 603h2v1h-2zM427 602h2v1h-2zM429 601h3v1h-3zM432 600h2v1h-2zM434 599h2v1h-2zM436 598h3v1h-3zM439 597h2v1h-2zM441 596h2v1h-2zM443 595h3v1h-3zM446 594h2v1h-2zM448 593h2v1h-2zM450 592h3v1h-3zM453 591h2v1h-2zM455 590h3v1h-3zM458 589h2v1h-2zM460 588h2v1h-2zM462 587h3v1h-3zM465 586h2v1h-2zM467 585h2v1h-2zM469 584h3v1h-3zM472 583h2v1h-2zM474 582h2v1h-2zM476 581h3v1h-3zM479 580h2v1h-2zM481 579h2v1h-2zM483 578h3v1h-3zM486 577h2v1h-2zM488 576h3v1h-3zM491 575h2v1h-2zM493 574h2v1h-2zM495 573h3v1h-3zM498 572h2v1h-2zM500 571h2v1h-2zM502 570h3v1h-3zM505 569h2v1h-2zM507 568h2v1h-2zM509 567h3v1h-3zM512 566h2v1h-2zM514 565h3v1h-3zM517 564h2v1h-2zM519 563h2v1h-2zM521 562h3v1h-3zM524 561h2v1h-2zM526 560h2v1h-2zM528 559h3v1h-3zM531 558h2v1h-2zM533 557h2v1h-2zM535 556h3v1h-3zM538 555h2v1h-2zM540 554h2v1h-2zM542 553h3v1h-3zM545 552h2v1h-2zM547 551h3v1h-3zM550 550h2v1h-2zM552 549h2v1h-2zM554 548h3v1h-3zM557 547h2v1h-2zM559 546h2v1h-2zM561 545h3v1h-3zM564 544h2v1h-2zM566 543h2v1h-2zM568 542h3v1h-3zM571 541h2v1h-2zM573 540h3v1h-3zM576 539h2v1h-2zM578 538h2v1h-2zM580 537h3v1h-3zM583 536h2v1h-2zM585 535h2v1h-2zM587 534h3v1h-3zM590 533h2v1h-2zM592 532h2v1h-2zM594 531h3v1h-3zM597 530h2v1h-2zM599 529h2v1h-2zM601 528h3v1h-3zM604 527h2v1h-2zM606 526h3v1h-3zM609 525h2v1h-2zM611 524h2v1h-2zM613 523h3v1h-3zM616 522h2v1h-2zM618 521h2v1h-2zM620 520h3v1h-3zM623 519h2v1h-2zM625 518h2v1h-2zM627 517h3v1h-3zM630 516h2v1h-2zM632 515h3v1h-3zM635 514h2v1h-2zM637 513h2v1h-2zM639 512h3v1h-3zM642 511h2v1h-2zM644 510h2v1h-2zM646 509h3v1h-3zM649 508h2v1h-2zM651 507h2v1h-2zM653 506h3v1h-3zM656 505h2v1h-2zM658 504h2v1h-2zM660 503h3v1h-3zM663 502h2v1h-2zM665 501h3v1h-3zM668 500h2v1h-2zM670 499h2v1h-2zM672 498h3v1h-3zM675 497h2v1h-2zM677 496h2v1h-2zM679 495h3v1h-3zM682 494h2v1h-2zM684 493h2v1h-2zM686 492h3v1h-3zM689 491h2v1h-2zM691 490h3v1h-3zM694 489h2v1h-2zM696 488h2v1h-2zM698 487h3v1h-3zM701 486h2v1h-2zM703 485h2v1h-2zM705 484h3v1h-3zM708 483h2v1h-2zM710 482h2v1h-2zM712 481h3v1h-3zM715 480h2v1h-2zM717 479h2v1h-2zM719 478h3v1h-3zM722 477h2v1h-2zM724 476h3v1h-3zM727 475h2v1h-2zM729 474h2v1h-2zM731 473h3v1h-3zM734 472h2v1h-2zM736 471h2v1h-2zM738 470h3v1h-3zM741 469h2v1h-2zM743 468h2v1h-2zM745 467h3v1h-3zM748 466h2v1h-2zM750 465h2v1h-2zM752 464h3v1h-3zM755 463h2v1h-2zM757 462h3v1h-3zM760 461h2v1h-2zM762 460h2v1h-2zM764 459h3v1h-3zM767 458h2v1h-2zM769 457h2v1h-2zM771 456h3v1h-3zM774 455h2v1h-2zM776 454h2v1h-2zM778 453h3v1h-3zM781 452h2v1h-2zM783 451h3v1h-3zM786 450h2v1h-2zM788 449h2v1h-2zM790 448h3v1h-3zM793 447h2v1h-2zM795 446h2v1h-2zM797 445h3v1h-3zM800 444h2v1h-2zM802 443h2v1h-2zM804 442h3v1h-3zM807 441h2v1h-2zM809 440h2v1h-2zM811 439h3v1h-3zM814 438h2v1h-2zM816 437h3v1h-3zM819 436h2v1h-2zM821 435h2v1h-2zM823 434h3v1h-3zM826 433h2v1h-2zM828 432h2v1h-2zM830 431h3v1h-3zM833 430h2v1h-2zM835 429h2v1h-2zM837 428h3v1h-3zM840 427h2v1h-2zM842 426h3v1h-3zM845 425h2v1h-2zM847 424h2v1h-2zM849 423h3v1h-3zM852 422h2v1h-2zM854 421h2v1h-2zM856 420h3v1h-3zM859 419h2v1h-2zM861 418h2v1h-2zM863 417h3v1h-3zM866 416h2v1h-2zM868 415h2v1h-2zM870 414h3v1h-3zM873 413h2v1h-2zM875 412h3v1h-3zM878 411h2v1h-2zM880 410h2v1h-2zM882 409h3v1h-3zM885 408h2v1h-2zM887 407h2v1h-2zM889 406h3v1h-3zM892 405h2v1h-2zM894 404h2v1h-2zM896 403h3v1h-3zM899 402h2v1h-2zM901 401h3v1h-3zM904 400h2v1h-2zM906 399h2v1h-2zM908 398h3v1h-3zM911 397h2v1h-2zM913 396h2v1h-2zM915 395h3v1h-3zM918 394h2v1h-2zM920 393h2v1h-2zM922 392h3v1h-3zM925 391h2v1h-2zM927 390h2v1h-2zM929 389h3v1h-3zM932 388h2v1h-2zM934 387h3v1h-3zM937 386h2v1h-2zM939 385h2v1h-2zM941 384h3v1h-3zM944 383h2v1h-2zM946 382h2v1h-2zM948 381h3v1h-3zM951 380h2v1h-2zM953 379h2v1h-2zM955 378h3v1h-3zM958 377h2v1h-2zM960 376h2v1h-2zM962 375h3v1h-3zM965 374h2v1h-2zM967 373h3v1h-3zM970 372h2v1h-2zM972 371h2v1h-2zM974 370h3v1h-3zM977 369h2v1h-2zM979 368h2v1h-2zM981 367h3v1h-3zM984 366h2v1h-2zM986 365h2v1h-2zM988 364h3v1h-3zM991 363h2v1h-2zM993 362h3v1h-3zM996 361h2v1h-2zM998 360h2v1h-2zM1000 359h3v1h-3zM1003 358h2v1h-2zM1005 357h2v1h-2zM1007 356h3v1h-3zM1010 355h2v1h-2zM1012 354h2v1h-2zM1014 353h3v1h-3zM1017 352h2v1h-2zM1019 351h2v1h-2zM1021 350h3v1h-3zM1024 349h2v1h-2zM1026 348h3v1h-3zM1029 347h2v1h-2zM1031 346h2v1h-2zM1033 345h3v1h-3zM1036 344h2v1h-2zM1038 343h2v1h-2zM1040 342h3v1h-3zM1043 341h2v1h-2zM1045 340h2v1h-2zM1047 339h3v1h-3zM1050 338h2v1h-2zM1052 337h3v1h-3zM1055 336h2v1h-2zM1057 335h2v1h-2zM1059 334h3v1h-3zM1062 333h2v1h-2zM1064 332h2v1h-2zM1066 331h3v1h-3zM1069 330h2v1h-2zM1071 329h2v1h-2zM1073 328h3v1h-3zM1076 327h2v1h-2zM1078 326h2v1h-2zM1080 325h3v1h-3zM1083 324h2v1h-2zM1085 323h3v1h-3zM1088 322h2v1h-2zM1090 321h2v1h-2zM1092 320h3v1h-3zM1095 319h2v1h-2zM1097 318h2v1h-2zM1099 317h3v1h-3zM1102 316h2v1h-2zM1104 315h2v1h-2zM1106 314h3v1h-3zM1109 313h2v1h-2zM1111 312h3v1h-3zM1114 311h2v1h-2zM1116 310h2v1h-2zM1118 309h3v1h-3zM1121 308h2v1h-2zM1123 307h2v1h-2zM1125 306h3v1h-3zM1128 305h2v1h-2zM1130 304h2v1h-2zM1132 303h3v1h-3zM1135 302h2v1h-2zM1137 301h2v1h-2zM1139 300h3v1h-3zM1142 299h2v1h-2zM1144 298h3v1h-3zM1147 297h2v1h-2zM1149 296h2v1h-2zM1151 295h3v1h-3zM1154 294h2v1h-2zM1156 293h2v1h-2zM1158 292h3v1h-3zM1161 291h2v1h-2zM1163 290h2v1h-2zM1165 289h3v1h-3zM1168 288h2v1h-2zM1170 287h3v1h-3zM1173 286h2v1h-2zM1175 285h2v1h-2zM1177 284h3v1h-3zM1180 283h2v1h-2zM1182 282h2v1h-2zM1184 281h3v1h-3zM1187 280h2v1h-2zM1189 279h2v1h-2zM1191 278h3v1h-3zM1194 277h2v1h-2zM1196 276h2v1h-2zM1198 275h3v1h-3zM1201 274h2v1h-2zM1203 273h3v1h-3zM1206 272h2v1h-2zM1208 271h2v1h-2zM1210 270h3v1h-3zM1213 269h2v1h-2zM1215 268h2v1h-2zM1217 267h3v1h-3zM1220 266h2v1h-2zM1222 265h2v1h-2zM1224 264h3v1h-3zM1227 263h2v1h-2zM1229 262h2v1h-2zM1231 261h3v1h-3zM1234 260h2v1h-2zM1236 259h3v1h-3zM1239 258h2v1h-2zM1241 257h2v1h-2zM1243 256h3v1h-3zM1246 255h2v1h-2zM1248 254h2v1h-2zM1250 253h3v1h-3zM1253 252h2v1h-2zM1255 251h2v1h-2zM1257 250h3v1h-3zM1260 249h2v1h-2zM1262 248h3v1h-3zM1265 247h2v1h-2zM1267 246h2v1h-2zM1269 245h3v1h-3zM1272 244h2v1h-2zM1274 243h2v1h-2zM1276 242h3v1h-3zM1279 241h2v1h-2zM1281 240h2v1h-2zM1283 239h3v1h-3zM1286 238h2v1h-2zM1288 237h2v1h-2zM1290 236h3v1h-3zM1293 235h2v1h-2zM1295 234h3v1h-3zM1298 233h2v1h-2zM1300 232h2v1h-2zM1302 231h2v1h-2zM110 737h1v1h-1zM111 736h3v1h-3zM114 735h3v1h-3zM117 734h3v1h-3zM120 733h4v1h-4zM124 732h3v1h-3zM127 731h3v1h-3zM130 730h3v1h-3zM133 729h3v1h-3zM136 728h3v1h-3zM139 727h3v1h-3zM142 726h4v1h-4zM146 725h3v1h-3zM149 724h3v1h-3zM152 723h3v1h-3zM155 722h3v1h-3zM158 721h3v1h-3zM161 720h3v1h-3zM164 719h4v1h-4zM168 718h3v1h-3zM171 717h3v1h-3zM174 716h3v1h-3zM177 715h3v1h-3zM180 714h3v1h-3zM183 713h3v1h-3zM186 712h4v1h-4zM190 711h3v1h-3zM193 710h3v1h-3zM196 709h3v1h-3zM199 708h3v1h-3zM202 707h3v1h-3zM205 706h3v1h-3zM208 705h4v1h-4zM212 704h3v1h-3zM215 703h3v1h-3zM218 702h3v1h-3zM221 701h3v1h-3zM224 700h3v1h-3zM227 699h3v1h-3zM230 698h4v1h-4zM234 697h3v1h-3zM237 696h3v1h-3zM240 695h3v1h-3zM243 694h3v1h-3zM246 693h3v1h-3zM249 692h3v1h-3zM252 691h4v1h-4zM256 690h3v1h-3zM259 689h3v1h-3zM262 688h3v1h-3zM265 687h3v1h-3zM268 686h3v1h-3zM271 685h3v1h-3zM274 684h4v1h-4zM278 683h3v1h-3zM281 682h3v1h-3zM284 681h3v1h-3zM287 680h3v1h-3zM290 679h3v1h-3zM293 678h3v1h-3zM296 677h4v1h-4zM300 676h3v1h-3zM303 675h3v1h-3zM306 674h3v1h-3zM309 673h3v1h-3zM312 672h3v1h-3zM315 671h3v1h-3zM318 670h4v1h-4zM322 669h3v1h-3zM325 668h3v1h-3zM328 667h3v1h-3zM331 666h3v1h-3zM334 665h3v1h-3zM337 664h3v1h-3zM340 663h4v1h-4zM344 662h3v1h-3zM347 661h3v1h-3zM350 660h3v1h-3zM353 659h3v1h-3zM356 658h3v1h-3zM359 657h3v1h-3zM362 656h4v1h-4zM366 655h3v1h-3zM369 654h3v1h-3zM372 653h3v1h-3zM375 652h3v1h-3zM378 651h3v1h-3zM381 650h3v1h-3zM384 649h4v1h-4zM388 648h3v1h-3zM391 647h3v1h-3zM394 646h3v1h-3zM397 645h3v1h-3zM400 644h3v1h-3zM403 643h3v1h-3zM406 642h4v1h-4zM410 641h3v1h-3zM413 640h3v1h-3zM416 639h3v1h-3zM419 638h3v1h-3zM422 637h3v1h-3zM425 636h3v1h-3zM428 635h4v1h-4zM432 634h3v1h-3zM435 633h3v1h-3zM438 632h3v1h-3zM441 631h3v1h-3zM444 630h3v1h-3zM447 629h3v1h-3zM450 628h4v1h-4zM454 627h3v1h-3zM457 626h3v1h-3zM460 625h3v1h-3zM463 624h3v1h-3zM466 623h3v1h-3zM469 622h3v1h-3zM472 621h4v1h-4zM476 620h3v1h-3zM479 619h3v1h-3zM482 618h3v1h-3zM485 617h3v1h-3zM488 616h3v1h-3zM491 615h3v1h-3zM494 614h3v1h-3zM497 613h4v1h-4zM501 612h3v1h-3zM504 611h3v1h-3zM507 610h3v1h-3zM510 609h3v1h-3zM513 608h3v1h-3zM516 607h3v1h-3zM519 606h4v1h-4zM523 605h3v1h-3zM526 604h3v1h-3zM529 603h3v1h-3zM532 602h3v1h-3zM535 601h3v1h-3zM538 600h3v1h-3zM541 599h4v1h-4zM545 598h3v1h-3zM548 597h3v1h-3zM551 596h3v1h-3zM554 595h3v1h-3zM557 594h3v1h-3zM560 593h3v1h-3zM563 592h4v1h-4zM567 591h3v1h-3zM570 590h3v1h-3zM573 589h3v1h-3zM576 588h3v1h-3zM579 587h3v1h-3zM582 586h3v1h-3zM585 585h4v1h-4zM589 584h3v1h-3zM592 583h3v1h-3zM595 582h3v1h-3zM598 581h3v1h-3zM601 580h3v1h-3zM604 579h3v1h-3zM607 578h4v1h-4zM611 577h3v1h-3zM614 576h3v1h-3zM617 575h3v1h-3zM620 574h3v1h-3zM623 573h3v1h-3zM626 572h3v1h-3zM629 571h4v1h-4zM633 570h3v1h-3zM636 569h3v1h-3zM639 568h3v1h-3zM642 567h3v1h-3zM645 566h3v1h-3zM648 565h3v1h-3zM651 564h4v1h-4zM655 563h3v1h-3zM658 562h3v1h-3zM661 561h3v1h-3zM664 560h3v1h-3zM667 559h3v1h-3zM670 558h3v1h-3zM673 557h4v1h-4zM677 556h3v1h-3zM680 555h3v1h-3zM683 554h3v1h-3zM686 553h3v1h-3zM689 552h3v1h-3zM692 551h3v1h-3zM695 550h4v1h-4zM699 549h3v1h-3zM702 548h3v1h-3zM705 547h3v1h-3zM708 546h3v1h-3zM711 545h3v1h-3zM714 544h3v1h-3zM717 543h4v1h-4zM721 542h3v1h-3zM724 541h3v1h-3zM727 540h3v1h-3zM730 539h3v1h-3zM733 538h3v1h-3zM736 537h3v1h-3zM739 536h4v1h-4zM743 535h3v1h-3zM746 534h3v1h-3zM749 533h3v1h-3zM752 532h3v1h-3zM755 531h3v1h-3zM758 530h3v1h-3zM761 529h4v1h-4zM765 528h3v1h-3zM768 527h3v1h-3zM771 526h3v1h-3zM774 525h3v1h-3zM777 524h3v1h-3zM780 523h3v1h-3zM783 522h4v1h-4zM787 521h3v1h-3zM790 520h3v1h-3zM793 519h3v1h-3zM796 518h3v1h-3zM799 517h3v1h-3zM802 516h3v1h-3zM805 515h4v1h-4zM809 514h3v1h-3zM812 513h3v1h-3zM815 512h3v1h-3zM818 511h3v1h-3zM821 510h3v1h-3zM824 509h3v1h-3zM827 508h4v1h-4zM831 507h3v1h-3zM834 506h3v1h-3zM837 505h3v1h-3zM840 504h3v1h-3zM843 503h3v1h-3zM846 502h3v1h-3zM849 501h4v1h-4zM853 500h3v1h-3zM856 499h3v1h-3zM859 498h3v1h-3zM862 497h3v1h-3zM865 496h3v1h-3zM868 495h3v1h-3zM871 494h4v1h-4zM875 493h3v1h-3zM878 492h3v1h-3zM881 491h3v1h-3zM884 490h3v1h-3zM887 489h3v1h-3zM890 488h3v1h-3zM893 487h3v1h-3zM896 486h4v1h-4zM900 485h3v1h-3zM903 484h3v1h-3zM906 483h3v1h-3zM909 482h3v1h-3zM912 481h3v1h-3zM915 480h3v1h-3zM918 479h4v1h-4zM922 478h3v1h-3zM925 477h3v1h-3zM928 476h3v1h-3zM931 475h3v1h-3zM934 474h3v1h-3zM937 473h3v1h-3zM940 472h4v1h-4zM944 471h3v1h-3zM947 470h3v1h-3zM950 469h3v1h-3zM953 468h3v1h-3zM956 467h3v1h-3zM959 466h3v1h-3zM962 465h4v1h-4zM966 464h3v1h-3zM969 463h3v1h-3zM972 462h3v1h-3zM975 461h3v1h-3zM978 460h3v1h-3zM981 459h3v1h-3zM984 458h4v1h-4zM988 457h3v1h-3zM991 456h3v1h-3zM994 455h3v1h-3zM997 454h3v1h-3zM1000 453h3v1h-3zM1003 452h3v1h-3zM1006 451h4v1h-4zM1010 450h3v1h-3zM1013 449h3v1h-3zM1016 448h3v1h-3zM1019 447h3v1h-3zM1022 446h3v1h-3zM1025 445h3v1h-3zM1028 444h4v1h-4zM1032 443h3v1h-3zM1035 442h3v1h-3zM1038 441h3v1h-3zM1041 440h3v1h-3zM1044 439h3v1h-3zM1047 438h3v1h-3zM1050 437h4v1h-4zM1054 436h3v1h-3zM1057 435h3v1h-3zM1060 434h3v1h-3zM1063 433h3v1h-3zM1066 432h3v1h-3zM1069 431h3v1h-3zM1072 430h4v1h-4zM1076 429h3v1h-3zM1079 428h3v1h-3zM1082 427h3v1h-3zM1085 426h3v1h-3zM1088 425h3v1h-3zM1091 424h3v1h-3zM1094 423h4v1h-4zM1098 422h3v1h-3zM1101 421h3v1h-3zM1104 420h3v1h-3zM1107 419h3v1h-3zM1110 418h3v1h-3zM1113 417h3v1h-3zM1116 416h4v1h-4zM1120 415h3v1h-3zM1123 414h3v1h-3zM1126 413h3v1h-3zM1129 412h3v1h-3zM1132 411h3v1h-3zM1135 410h3v1h-3zM1138 409h4v1h-4zM1142 408h3v1h-3zM1145 407h3v1h-3zM1148 406h3v1h-3zM1151 405h3v1h-3zM1154 404h3v1h-3zM1157 403h3v1h-3zM1160 402h4v1h-4zM1164 401h3v1h-3zM1167 400h3v1h-3zM1170 399h3v1h-3zM1173 398h3v1h-3zM1176 397h3v1h-3zM1179 396h3v1h-3zM1182 395h4v1h-4zM1186 394h3v1h-3zM1189 393h3v1h-3zM1192 392h3v1h-3zM1195 391h3v1h-3zM1198 390h3v1h-3zM1201 389h3v1h-3zM1204 388h4v1h-4zM1208 387h3v1h-3zM1211 386h3v1h-3zM1214 385h3v1h-3zM1217 384h3v1h-3zM1220 383h3v1h-3zM1223 382h3v1h-3zM1226 381h4v1h-4zM1230 380h3v1h-3zM1233 379h3v1h-3zM1236 378h3v1h-3zM1239 377h3v1h-3zM1242 376h3v1h-3zM1245 375h3v1h-3zM1248 374h4v1h-4zM1252 373h3v1h-3zM1255 372h3v1h-3zM1258 371h3v1h-3zM1261 370h3v1h-3zM1264 369h3v1h-3zM1267 368h3v1h-3zM1270 367h3v1h-3zM1273 366h4v1h-4zM1277 365h3v1h-3zM1280 364h3v1h-3zM1283 363h3v1h-3zM1286 362h3v1h-3zM1289 361h3v1h-3zM1292 360h3v1h-3zM1295 359h4v1h-4zM1299 358h3v1h-3zM1302 357h2v1h-2zM110 737h4v1h-4zM114 736h10v1h-10zM124 735h9v1h-9zM133 734h10v1h-10zM143 733h9v1h-9zM152 732h9v1h-9zM161 731h10v1h-10zM171 730h9v1h-9zM180 729h10v1h-10zM190 728h9v1h-9zM199 727h10v1h-10zM209 726h9v1h-9zM218 725h10v1h-10zM228 724h9v1h-9zM237 723h10v1h-10zM247 722h9v1h-9zM256 721h9v1h-9zM265 720h10v1h-10zM275 719h9v1h-9zM284 718h10v1h-10zM294 717h9v1h-9zM303 716h10v1h-10zM313 715h9v1h-9zM322 714h10v1h-10zM332 713h9v1h-9zM341 712h10v1h-10zM351 711h9v1h-9zM360 710h9v1h-9zM369 709h10v1h-10zM379 708h9v1h-9zM388 707h10v1h-10zM398 706h9v1h-9zM407 705h10v1h-10zM417 704h9v1h-9zM426 703h10v1h-10zM436 702h9v1h-9zM445 701h9v1h-9zM454 700h10v1h-10zM464 699h9v1h-9zM473 698h10v1h-10zM483 697h9v1h-9zM492 696h10v1h-10zM502 695h9v1h-9zM511 694h10v1h-10zM521 693h9v1h-9zM530 692h10v1h-10zM540 691h9v1h-9zM549 690h9v1h-9zM558 689h10v1h-10zM568 688h9v1h-9zM577 687h10v1h-10zM587 686h9v1h-9zM596 685h10v1h-10zM606 684h9v1h-9zM615 683h10v1h-10zM625 682h9v1h-9zM634 681h10v1h-10zM644 680h9v1h-9zM653 679h9v1h-9zM662 678h10v1h-10zM672 677h9v1h-9zM681 676h10v1h-10zM691 675h9v1h-9zM700 674h10v1h-10zM710 673h9v1h-9zM719 672h10v1h-10zM729 671h9v1h-9zM738 670h9v1h-9zM747 669h10v1h-10zM757 668h9v1h-9zM766 667h10v1h-10zM776 666h9v1h-9zM785 665h10v1h-10zM795 664h9v1h-9zM804 663h10v1h-10zM814 662h9v1h-9zM823 661h10v1h-10zM833 660h9v1h-9zM842 659h9v1h-9zM851 658h10v1h-10zM861 657h9v1h-9zM870 656h10v1h-10zM880 655h9v1h-9zM889 654h10v1h-10zM899 653h9v1h-9zM908 652h10v1h-10zM918 651h9v1h-9zM927 650h10v1h-10zM937 649h9v1h-9zM946 648h9v1h-9zM955 647h10v1h-10zM965 646h9v1h-9zM974 645h10v1h-10zM984 644h9v1h-9zM993 643h10v1h-10zM1003 642h9v1h-9zM1012 641h10v1h-10zM1022 640h9v1h-9zM1031 639h10v1h-10zM1041 638h9v1h-9zM1050 637h9v1h-9zM1059 636h10v1h-10zM1069 635h9v1h-9zM1078 634h10v1h-10zM1088 633h9v1h-9zM1097 632h10v1h-10zM1107 631h9v1h-9zM1116 630h10v1h-10zM1126 629h9v1h-9zM1135 628h9v1h-9zM1144 627h10v1h-10zM1154 626h9v1h-9zM1163 625h10v1h-10zM1173 624h9v1h-9zM1182 623h10v1h-10zM1192 622h9v1h-9zM1201 621h10v1h-10zM1211 620h9v1h-9zM1220 619h10v1h-10zM1230 618h9v1h-9zM1239 617h9v1h-9zM1248 616h10v1h-10zM1258 615h9v1h-9zM1267 614h10v1h-10zM1277 613h9v1h-9zM1286 612h10v1h-10zM1296 611h8v1h-8z" fill="#0000ff"/>
<path d="M110 736h2v1h-2zM112 735h1v1h-1zM113 734h2v1h-2zM115 733h2v1h-2zM117 732h1v1h-1zM118 731h2v1h-2zM120 730h1v1h-1zM121 729h2v1h-2zM123 728h1v1h-1zM124 727h2v1h-2zM126 726h2v1h-2zM128 725h1v1h-1zM129 724h2v1h-2zM131 723h1v1h-1zM132 722h2v1h-2zM134 721h1v1h-1zM135 720h2v1h-2zM137 719h2v1h-2zM139 718h1v1h-1zM140 717h2v1h-2zM142 716h1v1h-1zM143 715h2v1h-2zM145 714h2v1h-2zM147 713h1v1h-1zM148 712h2v1h-2zM150 711h1v1h-1zM151 710h2v1h-2zM153 709h1v1h-1zM154 708h2v1h-2zM156 707h2v1h-2zM158 706h1v1h-1zM159 705h2v1h-2zM161 704h1v1h-1zM162 703h2v1h-2zM164 702h1v1h-1zM165 701h2v1h-2zM167 700h2v1h-2zM169 699h1v1h-1zM170 698h2v1h-2zM172 697h1v1h-1zM173 696h2v1h-2zM175 695h1v1h-1zM176 694h2v1h-2zM178 693h2v1h-2zM180 692h1v1h-1zM181 691h2v1h-2zM183 690h1v1h-1zM184 689h2v1h-2zM186 688h1v1h-1zM187 687h2v1h-2zM189 686h2v1h-2zM191 685h1v1h-1zM192 684h2v1h-2zM194 683h1v1h-1zM195 682h2v1h-2zM197 681h1v1h-1zM198 680h2v1h-2zM200 679h2v1h-2zM202 678h1v1h-1zM203 677h2v1h-2zM205 676h1v1h-1zM206 675h2v1h-2zM208 674h2v1h-2zM210 673h1v1h-1zM211 672h2v1h-2zM213 671h1v1h-1zM214 670h2v1h-2zM216 669h1v1h-1zM217 668h2v1h-2zM219 667h2v1h-2zM221 666h1v1h-1zM222 665h2v1h-2zM224 664h1v1h-1zM225 663h2v1h-2zM227 662h1v1h-1zM228 661h2v1h-2zM230 660h2v1h-2zM232 659h1v1h-1zM233 658h2v1h-2zM235 657h1v1h-1zM236 656h2v1h-2zM238 655h1v1h-1zM239 654h2v1h-2zM241 653h2v1h-2zM243 652h1v1h-1zM244 651h2v1h-2zM246 650h1v1h-1zM247 649h2v1h-2zM249 648h1v1h-1zM250 647h2v1h-2zM252 646h2v1h-2zM254 645h1v1h-1zM255 644h2v1h-2zM257 643h1v1h-1zM258 642h2v1h-2zM260 641h1v1h-1zM261 640h2v1h-2zM263 639h2v1h-2zM265 638h1v1h-1zM266 637h2v1h-2zM268 636h1v1h-1zM269 635h2v1h-2zM271 634h1v1h-1zM272 633h2v1h-2zM274 632h2v1h-2zM276 631h1v1h-1zM277 630h2v1h-2zM279 629h1v1h-1zM280 628h2v1h-2zM282 627h2v1h-2zM284 626h1v1h-1zM285 625h2v1h-2zM287 624h1v1h-1zM288 623h2v1h-2zM290 622h1v1h-1zM291 621h2v1h-2zM293 620h2v1h-2zM295 619h1v1h-1zM296 618h2v1h-2zM298 617h1v1h-1zM299 616h2v1h-2zM301 615h1v1h-1zM302 614h2v1h-2zM304 613h2v1h-2zM306 612h1v1h-1zM307 611h2v1h-2zM309 610h1v1h-1zM310 609h2v1h-2zM312 608h1v1h-1zM313 607h2v1h-2zM315 606h2v1h-2zM317 605h1v1h-1zM318 604h2v1h-2zM320 603h1v1h-1zM321 602h2v1h-2zM323 601h1v1h-1zM324 600h2v1h-2zM326 599h2v1h-2zM328 598h1v1h-1zM329 597h2v1h-2zM331 596h1v1h-1zM332 595h2v1h-2zM334 594h1v1h-1zM335 593h2v1h-2zM337 592h2v1h-2zM339 591h1v1h-1zM340 590h2v1h-2zM342 589h1v1h-1zM343 588h2v1h-2zM345 587h2v1h-2zM347 586h1v1h-1zM348 585h2v1h-2zM350 584h1v1h-1zM351 583h2v1h-2zM353 582h1v1h-1zM354 581h2v1h-2zM356 580h2v1h-2zM358 579h1v1h-1zM359 578h2v1h-2zM361 577h1v1h-1zM362 576h2v1h-2zM364 575h1v1h-1zM365 574h2v1h-2zM367 573h2v1h-2zM369 572h1v1h-1zM370 571h2v1h-2zM372 570h1v1h-1zM373 569h2v1h-2zM375 568h1v1h-1zM376 567h2v1h-2zM378 566h2v1h-2zM380 565h1v1h-1zM381 564h2v1h-2zM383 563h1v1h-1zM384 562h2v1h-2zM386 561h1v1h-1zM387 560h2v1h-2zM389 559h2v1h-2zM391 558h1v1h-1zM392 557h2v1h-2zM394 556h1v1h-1zM395 555h2v1h-2zM397 554h1v1h-1zM398 553h2v1h-2zM400 552h2v1h-2zM402 551h1v1h-1zM403 550h2v1h-2zM405 549h1v1h-1zM406 548h2v1h-2zM408 547h2v1h-2zM410 546h1v1h-1zM411 545h2v1h-2zM413 544h1v1h-1zM414 543h2v1h-2zM416 542h1v1h-1zM417 541h2v1h-2zM419 540h2v1h-2zM421 539h1v1h-1zM422 538h2v1h-2zM424 537h1v1h-1zM425 536h2v1h-2zM427 535h1v1h-1zM428 534h2v1h-2zM430 533h2v1h-2zM432 532h1v1h-1zM433 531h2v1h-2zM435 530h1v1h-1zM436 529h2v1h-2zM438 528h1v1h-1zM439 527h2v1h-2zM441 526h2v1h-2zM443 525h1v1h-1zM444 524h2v1h-2zM446 523h1v1h-1zM447 522h2v1h-2zM449 521h1v1h-1zM450 520h2v1h-2zM452 519h2v1h-2zM454 518h1v1h-1zM455 517h2v1h-2zM457 516h1v1h-1zM458 515h2v1h-2zM460 514h1v1h-1zM461 513h2v1h-2zM463 512h2v1h-2zM465 511h1v1h-1zM466 510h2v1h-2zM468 509h1v1h-1zM469 508h2v1h-2zM471 507h1v1h-1zM472 506h2v1h-2zM474 505h2v1h-2zM476 504h1v1h-1zM477 503h2v1h-2zM479 502h1v1h-1zM480 501h2v1h-2zM482 500h2v1h-2zM484 499h1v1h-1zM485 498h2v1h-2zM487 497h1v1h-1zM488 496h2v1h-2zM490 495h1v1h-1zM491 494h2v1h-2zM493 493h2v1h-2zM495 492h1v1h-1zM496 491h2v1h-2zM498 490h1v1h-1zM499 489h2v1h-2zM501 488h1v1h-1zM502 487h2v1h-2zM504 486h2v1h-2zM506 485h1v1h-1zM507 484h2v1h-2zM509 483h1v1h-1zM510 482h2v1h-2zM512 481h1v1h-1zM513 480h2v1h-2zM515 479h2v1h-2zM517 478h1v1h-1zM518 477h2v1h-2zM520 476h1v1h-1zM521 475h2v1h-2zM523 474h1v1h-1zM524 473h2v1h-2zM526 472h2v1h-2zM528 471h1v1h-1zM529 470h2v1h-2zM531 469h1v1h-1zM532 468h2v1h-2zM534 467h1v1h-1zM535 466h2v1h-2zM537 465h2v1h-2zM539 464h1v1h-1zM540 463h2v1h-2zM542 462h1v1h-1zM543 461h2v1h-2zM545 460h2v1h-2zM547 459h1v1h-1zM548 458h2v1h-2zM550 457h1v1h-1zM551 456h2v1h-2zM553 455h1v1h-1zM554 454h2v1h-2zM556 453h2v1h-2zM558 452h1v1h-1zM559 451h2v1h-2zM561 450h1v1h-1zM562 449h2v1h-2zM564 448h1v1h-1zM565 447h2v1h-2zM567 446h2v1h-2zM569 445h1v1h-1zM570 444h2v1h-2zM572 443h1v1h-1zM573 442h2v1h-2zM575 441h1v1h-1zM576 440h2v1h-2zM578 439h2v1h-2zM580 438h1v1h-1zM581 437h2v1h-2zM583 436h1v1h-1zM584 435h2v1h-2zM586 434h1v1h-1zM587 433h2v1h-2zM589 432h2v1h-2zM591 431h1v1h-1zM592 430h2v1h-2zM594 429h1v1h-1zM595 428h2v1h-2zM597 427h1v1h-1zM598 426h2v1h-2zM600 425h2v1h-2zM602 424h1v1h-1zM603 423h2v1h-2zM605 422h1v1h-1zM606 421h2v1h-2zM608 420h2v1h-2zM610 419h1v1h-1zM611 418h2v1h-2zM613 417h1v1h-1zM614 416h2v1h-2zM616 415h1v1h-1zM617 414h2v1h-2zM619 413h2v1h-2zM621 412h1v1h-1zM622 411h2v1h-2zM624 410h1v1h-1zM625 409h2v1h-2zM627 408h1v1h-1zM628 407h2v1h-2zM630 406h2v1h-2zM632 405h1v1h-1zM633 404h2v1h-2zM635 403h1v1h-1zM636 402h2v1h-2zM638 401h1v1h-1zM639 400h2v1h-2zM641 399h2v1h-2zM643 398h1v1h-1zM644 397h2v1h-2zM646 396h1v1h-1zM647 395h2v1h-2zM649 394h1v1h-1zM650 393h2v1h-2zM652 392h2v1h-2zM654 391h1v1h-1zM655 390h2v1h-2zM657 389h1v1h-1zM658 388h2v1h-2zM660 387h1v1h-1zM661 386h2v1h-2zM663 385h2v1h-2zM665 384h1v1h-1zM666 383h2v1h-2zM668 382h1v1h-1zM669 381h2v1h-2zM671 380h1v1h-1zM672 379h2v1h-2zM674 378h2v1h-2zM676 377h1v1h-1zM677 376h2v1h-2zM679 375h1v1h-1zM680 374h2v1h-2zM682 373h2v1h-2zM684 372h1v1h-1zM685 371h2v1h-2zM687 370h1v1h-1zM688 369h2v1h-2zM690 368h1v1h-1zM691 367h2v1h-2zM693 366h2v1h-2zM695 365h1v1h-1zM696 364h2v1h-2zM698 363h1v1h-1zM699 362h2v1h-2zM701 361h1v1h-1zM702 360h2v1h-2zM704 359h2v1h-2zM706 358h1v1h-1zM707 357h2v1h-2zM709 356h1v1h-1zM710 355h2v1h-2zM712 354h1v1h-1zM713 353h2v1h-2zM715 352h2v1h-2zM717 351h1v1h-1zM718 350h2v1h-2zM720 349h1v1h-1zM721 348h2v1h-2zM723 347h1v1h-1zM724 346h2v1h-2zM726 345h2v1h-2zM728 344h1v1h-1zM729 343h2v1h-2zM731 342h1v1h-1zM732 341h2v1h-2zM734 340h1v1h-1zM735 339h2v1h-2zM737 338h2v1h-2zM739 337h1v1h-1zM740 336h2v1h-2zM742 335h1v1h-1zM743 334h2v1h-2zM745 333h2v1h-2zM747 332h1v1h-1zM748 331h2v1h-2zM750 330h1v1h-1zM751 329h2v1h-2zM753 328h1v1h-1zM754 327h2v1h-2zM756 326h2v1h-2zM758 325h1v1h-1zM759 324h2v1h-2zM761 323h1v1h-1zM762 322h2v1h-2zM764 321h1v1h-1zM765 320h2v1h-2zM767 319h2v1h-2zM769 318h1v1h-1zM770 317h2v1h-2zM772 316h1v1h-1zM773 315h2v1h-2zM775 314h1v1h-1zM776 313h2v1h-2zM778 312h2v1h-2zM780 311h1v1h-1zM781 310h2v1h-2zM783 309h1v1h-1zM784 308h2v1h-2zM786 307h1v1h-1zM787 306h2v1h-2zM789 305h2v1h-2zM791 304h1v1h-1zM792 303h2v1h-2zM794 302h1v1h-1zM795 301h2v1h-2zM797 300h1v1h-1zM798 299h2v1h-2zM800 298h2v1h-2zM802 297h1v1h-1zM803 296h2v1h-2zM805 295h1v1h-1zM806 294h2v1h-2zM808 293h2v1h-2zM810 292h1v1h-1zM811 291h2v1h-2zM813 290h1v1h-1zM814 289h2v1h-2zM816 288h1v1h-1zM817 287h2v1h-2zM819 286h2v1h-2zM821 285h1v1h-1zM822 284h2v1h-2zM824 283h1v1h-1zM825 282h2v1h-2zM827 281h1v1h-1zM828 280h2v1h-2zM830 279h2v1h-2zM832 278h1v1h-1zM833 277h2v1h-2zM835 276h1v1h-1zM836 275h2v1h-2zM838 274h1v1h-1zM839 273h2v1h-2zM841 272h2v1h-2zM843 271h1v1h-1zM844 270h2v1h-2zM846 269h1v1h-1zM847 268h2v1h-2zM849 267h1v1h-1zM850 266h2v1h-2zM852 265h2v1h-2zM854 264h1v1h-1zM855 263h2v1h-2zM857 262h1v1h-1zM858 261h2v1h-2zM860 260h1v1h-1zM861 259h2v1h-2zM863 258h2v1h-2zM865 257h1v1h-1zM866 256h2v1h-2zM868 255h1v1h-1zM869 254h2v1h-2zM871 253h1v1h-1zM872 252h2v1h-2zM874 251h2v1h-2zM876 250h1v1h-1zM877 249h2v1h-2zM879 248h1v1h-1zM880 247h2v1h-2zM882 246h2v1h-2zM884 245h1v1h-1zM885 244h2v1h-2zM887 243h1v1h-1zM888 242h2v1h-2zM890 241h1v1h-1zM891 240h2v1h-2zM893 239h2v1h-2zM895 238h1v1h-1zM896 237h2v1h-2zM898 236h1v1h-1zM899 235h2v1h-2zM901 234h1v1h-1zM902 233h2v1h-2zM904 232h2v1h-2zM906 231h1v1h-1zM907 230h2v1h-2zM909 229h1v1h-1zM910 228h2v1h-2zM912 227h1v1h-1zM913 226h2v1h-2zM915 225h2v1h-2zM917 224h1v1h-1zM918 223h2v1h-2zM920 222h1v1h-1zM921 221h2v1h-2zM923 220h1v1h-1zM924 219h2v1h-2zM926 218h2v1h-2zM928 217h1v1h-1zM929 216h2v1h-2zM931 215h1v1h-1zM932 214h2v1h-2zM934 213h1v1h-1zM935 212h2v1h-2zM937 211h2v1h-2zM939 210h1v1h-1zM940 209h2v1h-2zM942 208h1v1h-1zM943 207h2v1h-2zM945 206h2v1h-2zM947 205h1v1h-1zM948 204h2v1h-2zM950 203h1v1h-1zM951 202h2v1h-2zM953 201h1v1h-1zM954 200h2v1h-2zM956 199h2v1h-2zM958 198h1v1h-1zM959 197h2v1h-2zM961 196h1v1h-1zM962 195h2v1h-2zM964 194h1v1h-1zM965 193h2v1h-2zM967 192h2v1h-2zM969 191h1v1h-1zM970 190h2v1h-2zM972 189h1v1h-1zM973 188h2v1h-2zM975 187h1v1h-1zM976 186h2v1h-2zM978 185h2v1h-2zM980 184h1v1h-1zM981 183h2v1h-2zM983 182h1v1h-1zM984 181h2v1h-2zM986 180h1v1h-1zM987 179h2v1h-2zM989 178h2v1h-2zM991 177h1v1h-1zM992 176h2v1h-2zM994 175h1v1h-1zM995 174h2v1h-2zM997 173h1v1h-1zM998 172h2v1h-2zM1000 171h2v1h-2zM1002 170h1v1h-1zM1003 169h2v1h-2zM1005 168h1v1h-1zM1006 167h2v1h-2zM1008 166h2v1h-2zM1010 165h1v1h-1zM1011 164h2v1h-2zM1013 163h1v1h-1zM1014 162h2v1h-2zM1016 161h1v1h-1zM1017 160h2v1h-2zM1019 159h2v1h-2zM1021 158h1v1h-1zM1022 157h2v1h-2zM1024 156h1v1h-1zM1025 155h2v1h-2zM1027 154h1v1h-1zM1028 153h2v1h-2zM1030 152h2v1h-2zM1032 151h1v1h-1zM1033 150h2v1h-2zM1035 149h1v1h-1zM1036 148h2v1h-2zM1038 147h1v1h-1zM1039 146h2v1h-2zM1041 145h2v1h-2zM1043 144h1v1h-1zM1044 143h2v1h-2zM1046 142h1v1h-1zM1047 141h2v1h-2zM1049 140h1v1h-1zM1050 139h2v1h-2zM1052 138h2v1h-2zM1054 137h1v1h-1zM1055 136h2v1h-2zM1057 135h1v1h-1zM1058 134h2v1h-2zM1060 133h1v1h-1zM1061 132h2v1h-2zM1063 131h2v1h-2zM1065 130h1v1h-1zM1066 129h2v1h-2zM1068 128h1v1h-1zM1069 127h2v1h-2zM1071 126h1v1h-1zM1072 125h2v1h-2zM1074 124h2v1h-2zM1076 123h1v1h-1zM1077 122h2v1h-2zM1079 121h1v1h-1zM1080 120h2v1h-2zM1082 119h2v1h-2zM1084 118h1v1h-1zM1085 117h2v1h-2zM1087 116h1v1h-1zM1088 115h2v1h-2zM1090 114h1v1h-1zM1091 113h2v1h-2zM1093 112h2v1h-2zM1095 111h1v1h-1zM1096 110h2v1h-2zM1098 109h1v1h-1zM1099 108h2v1h-2zM1101 107h1v1h-1zM1102 106h2v1h-2zM1104 105h2v1h-2zM1106 104h1v1h-1zM1107 103h2v1h-2zM1109 102h1v1h-1zM1110 101h2v1h-2zM1112 100h1v1h-1zM1113 99h2v1h-2zM1115 98h2v1h-2zM1117 97h1v1h-1zM1118 96h2v1h-2zM1120 95h1v1h-1zM1121 94h2v1h-2zM1123 93h1v1h-1zM1124 92h2v1h-2zM1126 91h2v1h-2zM1128 90h1v1h-1zM1129 89h2v1h-2zM1131 88h1v1h-1zM1132 87h2v1h-2zM1134 86h1v1h-1zM1135 85h2v1h-2zM1137 84h2v1h-2zM1139 83h1v1h-1zM1140 82h2v1h-2zM1142 81h1v1h-1zM1143 80h2v1h-2zM1145 79h2v1h-2zM1147 78h1v1h-1zM1148 77h2v1h-2zM1150 76h1v1h-1zM1151 75h2v1h-2zM1153 74h1v1h-1zM1154 73h2v1h-2zM1156 72h2v1h-2zM1158 71h1v1h-1zM1159 70h2v1h-2zM1161 69h1v1h-1zM1162 68h2v1h-2zM1164 67h1v1h-1zM1165 66h2v1h-2zM1167 65h2v1h-2zM1169 64h1v1h-1zM1170 63h2v1h-2zM1172 62h1v1h-1zM1173 61h2v1h-2zM1175 60h1v1h-1zM1176 59h2v1h-2zM1178 58h2v1h-2zM1180 57h1v1h-1zM1181 56h2v1h-2zM1183 55h1v1h-1zM1184 54h2v1h-2zM1186 53h1v1h-1zM1187 52h2v1h-2zM1189 51h2v1h-2zM1191 50h1v1h-1zM1192 49h2v1h-2zM1194 48h1v1h-1zM1195 47h2v1h-2zM1197 46h1v1h-1zM1198 45h2v1h-2zM1200 44h2v1h-2zM1202 43h1v1h-1zM1203 42h2v1h-2zM1205 41h1v1h-1zM1206 40h2v1h-2zM1208 39h2v1h-2zM1210 38h1v1h-1zM1211 37h2v1h-2zM1213 36h1v1h-1zM1214 35h2v1h-2zM1216 34h1v1h-1zM1217 33h2v1h-2zM1219 32h2v1h-2zM1221 31h1v1h-1zM1222 30h2v1h-2zM1224 29h1v1h-1zM1225 28h2v1h-2zM1227 27h1v1h-1zM1228 26h2v1h-2zM1230 25h2v1h-2zM1232 24h1v1h-1zM1233 23h2v1h-2zM1235 22h1v1h-1zM1236 21h2v1h-2zM1238 20h1v1h-1zM1239 19h2v1h-2zM110 737h2v1h-2zM112 736h4v1h-4zM116 735h4v1h-4zM120 734h4v1h-4zM124 733h4v1h-4zM128 732h5v1h-5zM133 731h4v1h-4zM137 730h4v1h-4zM141 729h4v1h-4zM145 728h4v1h-4zM149 727h4v1h-4zM153 726h5v1h-5zM158 725h4v1h-4zM162 724h4v1h-4zM166 723h4v1h-4zM170 722h4v1h-4zM174 721h5v1h-5zM179 720h4v1h-4zM183 719h4v1h-4zM187 718h4v1h-4zM191 717h4v1h-4zM195 716h5v1h-5zM200 715h4v1h-4zM204 714h4v1h-4zM208 713h4v1h-4zM212 712h4v1h-4zM216 711h5v1h-5zM221 710h4v1h-4zM225 709h4v1h-4zM229 708h4v1h-4zM233 707h4v1h-4zM237 706h4v1h-4zM241 705h5v1h-5zM246 704h4v1h-4zM250 703h4v1h-4zM254 702h4v1h-4zM258 701h4v1h-4zM262 700h5v1h-5zM267 699h4v1h-4zM271 698h4v1h-4zM275 697h4v1h-4zM279 696h4v1h-4zM283 695h5v1h-5zM288 694h4v1h-4zM292 693h4v1h-4zM296 692h4v1h-4zM300 691h4v1h-4zM304 690h4v1h-4zM308 689h5v1h-5zM313 688h4v1h-4zM317 687h4v1h-4zM321 686h4v1h-4zM325 685h4v1h-4zM329 684h5v1h-5zM334 683h4v1h-4zM338 682h4v1h-4zM342 681h4v1h-4zM346 680h4v1h-4zM350 679h5v1h-5zM355 678h4v1h-4zM359 677h4v1h-4zM363 676h4v1h-4zM367 675h4v1h-4zM371 674h5v1h-5zM376 673h4v1h-4zM380 672h4v1h-4zM384 671h4v1h-4zM388 670h4v1h-4zM392 669h4v1h-4zM396 668h5v1h-5zM401 667h4v1h-4zM405 666h4v1h-4zM409 665h4v1h-4zM413 664h4v1h-4zM417 663h5v1h-5zM422 662h4v1h-4zM426 661h4v1h-4zM430 660h4v1h-4zM434 659h4v1h-4zM438 658h5v1h-5zM443 657h4v1h-4zM447 656h4v1h-4zM451 655h4v1h-4zM455 654h4v1h-4zM459 653h5v1h-5zM464 652h4v1h-4zM468 651h4v1h-4zM472 650h4v1h-4zM476 649h4v1h-4zM480 648h4v1h-4zM484 647h5v1h-5zM489 646h4v1h-4zM493 645h4v1h-4zM497 644h4v1h-4zM501 643h4v1h-4zM505 642h5v1h-5zM510 641h4v1h-4zM514 640h4v1h-4zM518 639h4v1h-4zM522 638h4v1h-4zM526 637h5v1h-5zM531 636h4v1h-4zM535 635h4v1h-4zM539 634h4v1h-4zM543 633h4v1h-4zM547 632h4v1h-4zM551 631h5v1h-5zM556 630h4v1h-4zM560 629h4v1h-4zM564 628h4v1h-4zM568 627h4v1h-4zM572 626h5v1h-5zM577 625h4v1h-4zM581 624h4v1h-4zM585 623h4v1h-4zM589 622h4v1h-4zM593 621h5v1h-5zM598 620h4v1h-4zM602 619h4v1h-4zM606 618h4v1h-4zM610 617h4v1h-4zM614 616h5v1h-5zM619 615h4v1h-4zM623 614h4v1h-4zM627 613h4v1h-4zM631 612h4v1h-4zM635 611h4v1h-4zM639 610h5v1h-5zM644 609h4v1h-4zM648 608h4v1h-4zM652 607h4v1h-4zM656 606h4v1h-4zM660 605h5v1h-5zM665 604h4v1h-4zM669 603h4v1h-4zM673 602h4v1h-4zM677 601h4v1h-4zM681 600h5v1h-5zM686 599h4v1h-4zM690 598h4v1h-4zM694 597h4v1h-4zM698 596h4v1h-4zM702 595h4v1h-4zM706 594h5v1h-5zM711 593h4v1h-4zM715 592h4v1h-4zM719 591h4v1h-4zM723 590h4v1h-4zM727 589h5v1h-5zM732 588h4v1h-4zM736 587h4v1h-4zM740 586h4v1h-4zM744 585h4v1h-4zM748 584h5v1h-5zM753 583h4v1h-4zM757 582h4v1h-4zM761 581h4v1h-4zM765 580h4v1h-4zM769 579h5v1h-5zM774 578h4v1h-4zM778 577h4v1h-4zM782 576h4v1h-4zM786 575h4v1h-4zM790 574h4v1h-4zM794 573h5v1h-5zM799 572h4v1h-4zM803 571h4v1h-4zM807 570h4v1h-4zM811 569h4v1h-4zM815 568h5v1h-5zM820 567h4v1h-4zM824 566h4v1h-4zM828 565h4v1h-4zM832 564h4v1h-4zM836 563h5v1h-5zM841 562h4v1h-4zM845 561h4v1h-4zM849 560h4v1h-4zM853 559h4v1h-4zM857 558h4v1h-4zM861 557h5v1h-5zM866 556h4v1h-4zM870 555h4v1h-4zM874 554h4v1h-4zM878 553h4v1h-4zM882 552h5v1h-5zM887 551h4v1h-4zM891 550h4v1h-4zM895 549h4v1h-4zM899 548h4v1h-4zM903 547h5v1h-5zM908 546h4v1h-4zM912 545h4v1h-4zM916 544h4v1h-4zM920 543h4v1h-4zM924 542h5v1h-5zM929 541h4v1h-4zM933 540h4v1h-4zM937 539h4v1h-4zM941 538h4v1h-4zM945 537h4v1h-4zM949 536h5v1h-5zM954 535h4v1h-4zM958 534h4v1h-4zM962 533h4v1h-4zM966 532h4v1h-4zM970 531h5v1h-5zM975 530h4v1h-4zM979 529h4v1h-4zM983 528h4v1h-4zM987 527h4v1h-4zM991 526h5v1h-5zM996 525h4v1h-4zM1000 524h4v1h-4zM1004 523h4v1h-4zM1008 522h4v1h-4zM1012 521h4v1h-4zM1016 520h5v1h-5zM1021 519h4v1h-4zM1025 518h4v1h-4zM1029 517h4v1h-4zM1033 516h4v1h-4zM1037 515h5v1h-5zM1042 514h4v1h-4zM1046 513h4v1h-4zM1050 512h4v1h-4zM1054 511h4v1h-4zM1058 510h5v1h-5zM1063 509h4v1h-4zM1067 508h4v1h-4zM1071 507h4v1h-4zM1075 506h4v1h-4zM1079 505h5v1h-5zM1084 504h4v1h-4zM1088 503h4v1h-4zM1092 502h4v1h-4zM1096 501h4v1h-4zM1100 500h4v1h-4zM1104 499h5v1h-5zM1109 498h4v1h-4zM1113 497h4v1h-4zM1117 496h4v1h-4zM1121 495h4v1h-4zM1125 494h5v1h-5zM1130 493h4v1h-4zM1134 492h4v1h-4zM1138 491h4v1h-4zM1142 490h4v1h-4zM1146 489h5v1h-5zM1151 488h4v1h-4zM1155 487h4v1h-4zM1159 486h4v1h-4zM1163 485h4v1h-4zM1167 484h5v1h-5zM1172 483h4v1h-4zM1176 482h4v1h-4zM1180 481h4v1h-4zM1184 480h4v1h-4zM1188 479h4v1h-4zM1192 478h5v1h-5zM1197 477h4v1h-4zM1201 476h4v1h-4zM1205 475h4v1h-4zM1209 474h4v1h-4zM1213 473h5v1h-5zM1218 472h4v1h-4zM1222 471h4v1h-4zM1226 470h4v1h-4zM1230 469h4v1h-4zM1234 468h5v1h-5zM1239 467h4v1h-4zM1243 466h4v1h-4zM1247 465h4v1h-4zM1251 464h4v1h-4zM1255 463h4v1h-4zM1259 462h5v1h-5zM1264 461h4v1h-4zM1268 460h4v1h-4zM1272 459h4v1h-4zM1276 458h4v1h-4zM1280 457h5v1h-5zM1285 456h4v1h-4zM1289 455h4v1h-4zM1293 454h4v1h-4zM1297 453h4v1h-4zM1301 452h3v1h-3zM110 737h3v1h-3zM113 736h6v1h-6zM119 735h6v1h-6zM125 734h6v1h-6zM131 733h7v1h-7zM138 732h6v1h-6zM144 731h6v1h-6zM150 730h7v1h-7zM157 729h6v1h-6zM163 728h6v1h-6zM169 727h6v1h-6zM175 726h7v1h-7zM182 725h6v1h-6zM188 724h6v1h-6zM194 723h7v1h-7zM201 722h6v1h-6zM207 721h6v1h-6zM213 720h6v1h-6zM219 719h7v1h-7zM226 718h6v1h-6zM232 717h6v1h-6zM238 716h7v1h-7zM245 715h6v1h-6zM251 714h6v1h-6zM257 713h6v1h-6zM263 712h7v1h-7zM270 711h6v1h-6zM276 710h6v1h-6zM282 709h7v1h-7zM289 708h6v1h-6zM295 707h6v1h-6zM301 706h6v1h-6zM307 705h7v1h-7zM314 704h6v1h-6zM320 703h6v1h-6zM326 702h7v1h-7zM333 701h6v1h-6zM339 700h6v1h-6zM345 699h6v1h-6zM351 698h7v1h-7zM358 697h6v1h-6zM364 696h6v1h-6zM370 695h7v1h-7zM377 694h6v1h-6zM383 693h6v1h-6zM389 692h6v1h-6zM395 691h7v1h-7zM402 690h6v1h-6zM408 689h6v1h-6zM414 688h7v1h-7zM421 687h6v1h-6zM427 686h6v1h-6zM433 685h6v1h-6zM439 684h7v1h-7zM446 683h6v1h-6zM452 682h6v1h-6zM458 681h7v1h-7zM465 680h6v1h-6zM471 679h6v1h-6zM477 678h6v1h-6zM483 677h7v1h-7zM490 676h6v1h-6zM496 675h6v1h-6zM502 674h6v1h-6zM508 673h7v1h-7zM515 672h6v1h-6zM521 671h6v1h-6zM527 670h7v1h-7zM534 669h6v1h-6zM540 668h6v1h-6zM546 667h6v1h-6zM552 666h7v1h-7zM559 665h6v1h-6zM565 664h6v1h-6zM571 663h7v1h-7zM578 662h6v1h-6zM584 661h6v1h-6zM590 660h6v1h-6zM596 659h7v1h-7zM603 658h6v1h-6zM609 657h6v1h-6zM615 656h7v1h-7zM622 655h6v1h-6zM628 654h6v1h-6zM634 653h6v1h-6zM640 652h7v1h-7zM647 651h6v1h-6zM653 650h6v1h-6zM659 649h7v1h-7zM666 648h6v1h-6zM672 647h6v1h-6zM678 646h6v1h-6zM684 645h7v1h-7zM691 644h6v1h-6zM697 643h6v1h-6zM703 642h7v1h-7zM710 641h6v1h-6zM716 640h6v1h-6zM722 639h6v1h-6zM728 638h7v1h-7zM735 637h6v1h-6zM741 636h6v1h-6zM747 635h7v1h-7zM754 634h6v1h-6zM760 633h6v1h-6zM766 632h6v1h-6zM772 631h7v1h-7zM779 630h6v1h-6zM785 629h6v1h-6zM791 628h7v1h-7zM798 627h6v1h-6zM804 626h6v1h-6zM810 625h6v1h-6zM816 624h7v1h-7zM823 623h6v1h-6zM829 622h6v1h-6zM835 621h7v1h-7zM842 620h6v1h-6zM848 619h6v1h-6zM854 618h6v1h-6zM860 617h7v1h-7zM867 616h6v1h-6zM873 615h6v1h-6zM879 614h6v1h-6zM885 613h7v1h-7zM892 612h6v1h-6zM898 611h6v1h-6zM904 610h7v1h-7zM911 609h6v1h-6zM917 608h6v1h-6zM923 607h6v1h-6zM929 606h7v1h-7zM936 605h6v1h-6zM942 604h6v1h-6zM948 603h7v1h-7zM955 602h6v1h-6zM961 601h6v1h-6zM967 600h6v1h-6zM973 599h7v1h-7zM980 598h6v1h-6zM986 597h6v1h-6zM992 596h7v1h-7zM999 595h6v1h-6zM1005 594h6v1h-6zM1011 593h6v1h-6zM1017 592h7v1h-7zM1024 591h6v1h-6zM1030 590h6v1h-6zM1036 589h7v1h-7zM1043 588h6v1h-6zM1049 587h6v1h-6zM1055 586h6v1h-6zM1061 585h7v1h-7zM1068 584h6v1h-6zM1074 583h6v1h-6zM1080 582h7v1h-7zM1087 581h6v1h-6zM1093 580h6v1h-6zM1099 579h6v1h-6zM1105 578h7v1h-7zM1112 577h6v1h-6zM1118 576h6v1h-6zM1124 575h7v1h-7zM1131 574h6v1h-6zM1137 573h6v1h-6zM1143 572h6v1h-6zM1149 571h7v1h-7zM1156 570h6v1h-6zM1162 569h6v1h-6zM1168 568h7v1h-7zM1175 567h6v1h-6zM1181 566h6v1h-6zM1187 565h6v1h-6zM1193 564h7v1h-7zM1200 563h6v1h-6zM1206 562h6v1h-6zM1212 561h7v1h-7zM1219 560h6v1h-6zM1225 559h6v1h-6zM1231 558h6v1h-6zM1237 557h7v1h-7zM1244 556h6v1h-6zM1250 555h6v1h-6zM1256 554h7v1h-7zM1263 553h6v1h-6zM1269 552h6v1h-6zM1275 551h6v1h-6zM1281 550h7v1h-7zM1288 549h6v1h-6zM1294 548h6v1h-6zM1300 547h4v1h-4zM110 737h6v1h-6zM116 736h12v1h-12zM128 735h13v1h-13zM141 734h12v1h-12zM153 733h13v1h-13zM166 732h13v1h-13zM179 731h12v1h-12zM191 730h13v1h-13zM204 729h12v1h-12zM216 728h13v1h-13zM229 727h12v1h-12zM241 726h13v1h-13zM254 725h13v1h-13zM267 724h12v1h-12zM279 723h13v1h-13zM292 722h12v1h-12zM304 721h13v1h-13zM317 720h12v1h-12zM329 719h13v1h-13zM342 718h12v1h-12zM354 717h13v1h-13zM367 716h13v1h-13zM380 715h12v1h-12zM392 714h13v1h-13zM405 713h12v1h-12zM417 712h13v1h-13zM430 711h12v1h-12zM442 710h13v1h-13zM455 709h13v1h-13zM468 708h12v1h-12zM480 707h13v1h-13zM493 706h12v1h-12zM505 705h13v1h-13zM518 704h12v1h-12zM530 703h13v1h-13zM543 702h12v1h-12zM555 701h13v1h-13zM568 700h13v1h-13zM581 699h12v1h-12zM593 698h13v1h-13zM606 697h12v1h-12zM618 696h13v1h-13zM631 695h12v1h-12zM643 694h13v1h-13zM656 693h13v1h-13zM669 692h12v1h-12zM681 691h13v1h-13zM694 690h12v1h-12zM706 689h13v1h-13zM719 688h12v1h-12zM731 687h13v1h-13zM744 686h12v1h-12zM756 685h13v1h-13zM769 684h13v1h-13zM782 683h12v1h-12zM794 682h13v1h-13zM807 681h12v1h-12zM819 680h13v1h-13zM832 679h12v1h-12zM844 678h13v1h-13zM857 677h13v1h-13zM870 676h12v1h-12zM882 675h13v1h-13zM895 674h12v1h-12zM907 673h13v1h-13zM920 672h12v1h-12zM932 671h13v1h-13zM945 670h12v1h-12zM957 669h13v1h-13zM970 668h13v1h-13zM983 667h12v1h-12zM995 666h13v1h-13zM1008 665h12v1h-12zM1020 664h13v1h-13zM1033 663h12v1h-12zM1045 662h13v1h-13zM1058 661h13v1h-13zM1071 660h12v1h-12zM1083 659h13v1h-13zM1096 658h12v1h-12zM1108 657h13v1h-13zM1121 656h12v1h-12zM1133 655h13v1h-13zM1146 654h12v1h-12zM1158 653h13v1h-13zM1171 652h13v1h-13zM1184 651h12v1h-12zM1196 650h13v1h-13zM1209 649h12v1h-12zM1221 648h13v1h-13zM1234 647h12v1h-12zM1246 646h13v1h-13zM1259 645h13v1h-13zM1272 644h12v1h-12zM1284 643h13v1h-13zM1297 642h7v1h-7z" fill="#ff0000"/>
<path d="M-1 600h1v7h-1zM-3 604h2v1h-2zM0 604h2v1h-2zM3 593h1v27h-1zM1 616h2v1h-2zM4 605h2v1h-2zM6 607h1v14h-1zM4 619h2v1h-2zM7 607h2v1h-2zM10 608h1v23h-1zM8 614h2v1h-2zM11 621h2v1h-2zM13 636h1v17h-1zM11 643h2v1h-2zM14 648h2v1h-2zM17 641h1v12h-1zM15 652h2v1h-2zM18 645h2v1h-2zM20 642h1v13h-1zM18 645h2v1h-2zM21 649h2v1h-2zM24 660h1v39h-1zM22 661h2v1h-2zM25 698h2v1h-2zM27 682h1v29h-1zM25 689h2v1h-2zM28 697h2v1h-2zM31 699h1v17h-1zM29 700h2v1h-2zM32 714h2v1h-2zM45 635h1v29h-1zM43 651h2v1h-2zM46 658h2v1h-2zM52 646h1v28h-1zM50 650h2v1h-2zM53 657h2v1h-2zM56 649h1v21h-1zM54 649h2v1h-2zM57 666h2v1h-2zM84 516h1v33h-1zM82 519h2v1h-2zM85 543h2v1h-2zM91 526h1v23h-1zM89 531h2v1h-2zM92 540h2v1h-2zM95 535h1v49h-1zM93 560h2v1h-2zM96 577h2v1h-2zM102 564h1v19h-1zM100 570h2v1h-2zM103 581h2v1h-2zM105 574h1v41h-1zM103 575h2v1h-2zM106 608h2v1h-2zM109 682h1v58h-1zM107 737h2v1h-2zM110 692h2v1h-2zM116 658h1v13h-1zM114 658h2v1h-2zM117 665h2v1h-2zM144 447h1v15h-1zM142 454h2v1h-2zM145 457h2v1h-2zM148 445h1v58h-1zM146 453h2v1h-2zM149 481h2v1h-2zM158 441h1v24h-1zM156 447h2v1h-2zM159 448h2v1h-2zM169 429h1v21h-1zM167 430h2v1h-2zM170 442h2v1h-2zM176 436h1v34h-1zM174 437h2v1h-2zM177 454h2v1h-2zM180 468h1v26h-1zM178 492h2v1h-2zM181 484h2v1h-2zM187 376h1v49h-1zM185 388h2v1h-2zM188 420h2v1h-2zM197 365h1v15h-1zM195 366h2v1h-2zM198 372h2v1h-2zM201 366h1v18h-1zM199 371h2v1h-2zM202 379h2v1h-2zM205 372h1v40h-1zM203 373h2v1h-2zM206 408h2v1h-2zM212 402h1v33h-1zM210 402h2v1h-2zM213 416h2v1h-2zM222 366h1v41h-1zM220 377h2v1h-2zM223 392h2v1h-2zM226 389h1v15h-1zM224 391h2v1h-2zM227 400h2v1h-2zM233 389h1v17h-1zM231 394h2v1h-2zM234 401h2v1h-2zM236 401h1v27h-1zM234 401h2v1h-2zM237 410h2v1h-2zM240 391h1v40h-1zM238 397h2v1h-2zM241 424h2v1h-2zM265 351h1v42h-1zM263 354h2v1h-2zM266 385h2v1h-2zM268 401h1v32h-1zM266 432h2v1h-2zM269 404h2v1h-2zM275 375h1v20h-1zM273 375h2v1h-2zM276 389h2v1h-2zM279 379h1v24h-1zM277 396h2v1h-2zM280 396h2v1h-2zM282 389h1v16h-1zM280 395h2v1h-2zM283 396h2v1h-2zM290 367h1v27h-1zM288 380h2v1h-2zM291 376h2v1h-2zM307 298h1v23h-1zM305 299h2v1h-2zM308 314h2v1h-2zM314 305h1v27h-1zM312 306h2v1h-2zM315 322h2v1h-2zM318 308h1v23h-1zM316 316h2v1h-2zM319 326h2v1h-2zM332 312h1v15h-1zM330 314h2v1h-2zM333 318h2v1h-2zM336 315h1v20h-1zM334 315h2v1h-2zM337 333h2v1h-2zM339 337h1v23h-1zM337 344h2v1h-2zM340 356h2v1h-2zM343 356h1v17h-1zM341 363h2v1h-2zM344 363h2v1h-2zM353 347h1v15h-1zM351 348h2v1h-2zM354 360h2v1h-2zM357 357h1v26h-1zM355 361h2v1h-2zM358 376h2v1h-2zM364 354h1v16h-1zM362 354h2v1h-2zM365 366h2v1h-2zM371 345h1v22h-1zM369 346h2v1h-2zM372 366h2v1h-2zM375 372h1v23h-1zM373 372h2v1h-2zM376 392h2v1h-2zM378 386h1v27h-1zM376 387h2v1h-2zM379 408h2v1h-2zM389 378h1v37h-1zM387 378h2v1h-2zM390 401h2v1h-2zM392 399h1v27h-1zM390 400h2v1h-2zM393 421h2v1h-2zM399 404h1v16h-1zM397 405h2v1h-2zM400 413h2v1h-2zM403 412h1v13h-1zM401 412h2v1h-2zM404 421h2v1h-2zM410 421h1v27h-1zM408 424h2v1h-2zM411 444h2v1h-2zM417 407h1v28h-1zM415 420h2v1h-2zM418 430h2v1h-2zM442 364h1v25h-1zM440 365h2v1h-2zM443 377h2v1h-2zM449 383h1v26h-1zM447 384h2v1h-2zM450 406h2v1h-2zM453 406h1v27h-1zM451 411h2v1h-2zM454 429h2v1h-2zM456 422h1v19h-1zM454 434h2v1h-2zM457 437h2v1h-2zM463 401h1v26h-1zM461 412h2v1h-2zM464 420h2v1h-2zM495 359h1v10h-1zM493 360h2v1h-2zM496 365h2v1h-2zM509 322h1v19h-1zM507 326h2v1h-2zM510 337h2v1h-2zM513 337h1v18h-1zM511 349h2v1h-2zM514 350h2v1h-2zM516 344h1v20h-1zM514 350h2v1h-2zM517 354h2v1h-2zM520 357h1v14h-1zM518 360h2v1h-2zM521 364h2v1h-2zM523 363h1v24h-1zM521 370h2v1h-2zM524 385h2v1h-2zM527 388h1v27h-1zM525 393h2v1h-2zM528 412h2v1h-2zM530 397h1v22h-1zM528 411h2v1h-2zM531 414h2v1h-2zM534 404h1v17h-1zM532 407h2v1h-2zM535 416h2v1h-2zM552 352h1v21h-1zM550 364h2v1h-2zM553 365h2v1h-2zM562 341h1v15h-1zM560 347h2v1h-2zM563 353h2v1h-2zM566 339h1v29h-1zM564 341h2v1h-2zM567 356h2v1h-2zM591 267h1v27h-1zM589 268h2v1h-2zM592 279h2v1h-2zM598 257h1v25h-1zM596 267h2v1h-2zM599 268h2v1h-2zM605 257h1v20h-1zM603 263h2v1h-2zM606 274h2v1h-2zM608 266h1v29h-1zM606 274h2v1h-2zM609 292h2v1h-2zM615 285h1v24h-1zM613 286h2v1h-2zM616 306h2v1h-2zM619 297h1v22h-1zM617 305h2v1h-2zM620 315h2v1h-2zM622 314h1v12h-1zM620 324h2v1h-2zM623 320h2v1h-2zM647 258h1v18h-1zM645 259h2v1h-2zM648 273h2v1h-2zM658 241h1v14h-1zM656 243h2v1h-2zM659 248h2v1h-2zM662 246h1v26h-1zM660 246h2v1h-2zM663 265h2v1h-2zM665 257h1v18h-1zM663 260h2v1h-2zM666 273h2v1h-2zM676 229h1v14h-1zM674 233h2v1h-2zM677 237h2v1h-2zM679 223h1v24h-1zM677 223h2v1h-2zM680 240h2v1h-2zM683 244h1v18h-1zM681 250h2v1h-2zM684 259h2v1h-2zM686 254h1v20h-1zM684 257h2v1h-2zM687 262h2v1h-2zM697 241h1v33h-1zM695 242h2v1h-2zM698 264h2v1h-2zM700 270h1v23h-1zM698 275h2v1h-2zM701 278h2v1h-2zM704 267h1v25h-1zM702 275h2v1h-2zM705 287h2v1h-2zM715 256h1v17h-1zM713 257h2v1h-2zM716 268h2v1h-2zM718 263h1v18h-1zM716 265h2v1h-2zM719 276h2v1h-2zM722 269h1v18h-1zM720 271h2v1h-2zM723 282h2v1h-2zM725 272h1v21h-1zM723 281h2v1h-2zM726 282h2v1h-2zM739 234h1v13h-1zM737 241h2v1h-2zM740 244h2v1h-2zM743 245h1v16h-1zM741 246h2v1h-2zM744 255h2v1h-2zM747 249h1v21h-1zM745 254h2v1h-2zM748 267h2v1h-2zM750 264h1v11h-1zM748 268h2v1h-2zM751 268h2v1h-2zM764 219h1v18h-1zM762 223h2v1h-2zM765 232h2v1h-2zM768 230h1v17h-1zM766 239h2v1h-2zM769 240h2v1h-2zM771 240h1v13h-1zM769 241h2v1h-2zM772 245h2v1h-2zM775 246h1v32h-1zM773 247h2v1h-2zM776 275h2v1h-2zM778 268h1v35h-1zM776 278h2v1h-2zM779 297h2v1h-2zM786 272h1v35h-1zM784 272h2v1h-2zM787 290h2v1h-2zM789 284h1v22h-1zM787 285h2v1h-2zM790 300h2v1h-2zM796 299h1v19h-1zM794 299h2v1h-2zM797 308h2v1h-2zM800 307h1v47h-1zM798 307h2v1h-2zM801 347h2v1h-2zM803 340h1v43h-1zM801 345h2v1h-2zM804 357h2v1h-2zM810 334h1v38h-1zM808 334h2v1h-2zM811 368h2v1h-2zM824 332h1v18h-1zM822 334h2v1h-2zM825 336h2v1h-2zM828 324h1v99h-1zM826 326h2v1h-2zM829 393h2v1h-2zM842 287h1v17h-1zM840 287h2v1h-2zM843 300h2v1h-2zM860 270h1v19h-1zM858 271h2v1h-2zM861 283h2v1h-2zM863 303h1v21h-1zM861 309h2v1h-2zM864 321h2v1h-2zM878 274h1v57h-1zM876 274h2v1h-2zM879 321h2v1h-2zM888 300h1v37h-1zM886 300h2v1h-2zM889 325h2v1h-2zM899 320h1v39h-1zM897 321h2v1h-2zM900 352h2v1h-2zM902 375h1v44h-1zM900 411h2v1h-2zM903 388h2v1h-2zM906 418h1v35h-1zM904 442h2v1h-2zM907 431h2v1h-2zM913 407h1v33h-1zM911 411h2v1h-2zM914 434h2v1h-2zM917 477h1v44h-1zM915 500h2v1h-2zM918 482h2v1h-2zM924 452h1v54h-1zM922 460h2v1h-2zM925 500h2v1h-2zM927 505h1v32h-1zM925 523h2v1h-2zM928 526h2v1h-2zM931 543h1v43h-1zM929 547h2v1h-2zM932 582h2v1h-2zM945 570h1v31h-1zM943 575h2v1h-2zM946 598h2v1h-2zM952 615h1v43h-1zM950 617h2v1h-2zM953 652h2v1h-2zM963 578h1v43h-1zM961 578h2v1h-2zM964 618h2v1h-2zM966 645h1v32h-1zM964 648h2v1h-2zM967 673h2v1h-2z" fill="#ff0000"/>
<path d="M35 667h1v37h-1zM33 702h2v1h-2zM36 672h2v1h-2zM38 649h1v35h-1zM36 657h2v1h-2zM39 650h2v1h-2zM42 640h1v19h-1zM40 653h2v1h-2zM43 648h2v1h-2zM49 652h1v25h-1zM47 671h2v1h-2zM50 653h2v1h-2zM59 646h1v25h-1zM57 670h2v1h-2zM60 653h2v1h-2zM63 615h1v30h-1zM61 636h2v1h-2zM64 616h2v1h-2zM66 605h1v15h-1zM64 612h2v1h-2zM67 608h2v1h-2zM70 574h1v29h-1zM68 593h2v1h-2zM71 577h2v1h-2zM73 553h1v32h-1zM71 577h2v1h-2zM74 558h2v1h-2zM77 519h1v32h-1zM75 540h2v1h-2zM78 524h2v1h-2zM81 500h1v27h-1zM79 513h2v1h-2zM82 522h2v1h-2zM88 526h1v27h-1zM86 549h2v1h-2zM89 531h2v1h-2zM98 560h1v22h-1zM96 577h2v1h-2zM99 560h2v1h-2zM112 633h1v49h-1zM110 660h2v1h-2zM113 650h2v1h-2zM120 607h1v26h-1zM118 632h2v1h-2zM121 617h2v1h-2zM123 556h1v19h-1zM121 556h2v1h-2zM124 561h2v1h-2zM127 548h1v21h-1zM125 560h2v1h-2zM128 552h2v1h-2zM130 500h1v65h-1zM128 552h2v1h-2zM131 502h2v1h-2zM134 464h1v33h-1zM132 491h2v1h-2zM135 471h2v1h-2zM137 459h1v20h-1zM135 471h2v1h-2zM138 466h2v1h-2zM141 445h1v29h-1zM139 445h2v1h-2zM142 447h2v1h-2zM151 447h1v34h-1zM149 478h2v1h-2zM152 448h2v1h-2zM155 435h1v19h-1zM153 443h2v1h-2zM156 447h2v1h-2zM162 420h1v40h-1zM160 450h2v1h-2zM163 446h2v1h-2zM166 428h1v13h-1zM164 438h2v1h-2zM167 431h2v1h-2zM173 436h1v25h-1zM171 459h2v1h-2zM174 438h2v1h-2zM183 380h1v63h-1zM181 438h2v1h-2zM184 381h2v1h-2zM190 400h1v26h-1zM188 416h2v1h-2zM191 410h2v1h-2zM194 360h1v71h-1zM192 408h2v1h-2zM195 366h2v1h-2zM208 380h1v30h-1zM206 401h2v1h-2zM209 394h2v1h-2zM215 384h1v33h-1zM213 416h2v1h-2zM216 389h2v1h-2zM219 365h1v21h-1zM217 382h2v1h-2zM220 372h2v1h-2zM229 386h1v25h-1zM227 393h2v1h-2zM230 392h2v1h-2zM244 414h1v12h-1zM242 423h2v1h-2zM245 416h2v1h-2zM247 385h1v32h-1zM245 407h2v1h-2zM248 407h2v1h-2zM251 370h1v42h-1zM249 401h2v1h-2zM252 372h2v1h-2zM254 355h1v10h-1zM252 356h2v1h-2zM255 362h2v1h-2zM258 350h1v17h-1zM256 361h2v1h-2zM259 351h2v1h-2zM261 349h1v16h-1zM259 357h2v1h-2zM262 357h2v1h-2zM272 377h1v31h-1zM270 404h2v1h-2zM273 380h2v1h-2zM286 358h1v40h-1zM284 396h2v1h-2zM287 360h2v1h-2zM293 338h1v37h-1zM291 369h2v1h-2zM294 352h2v1h-2zM297 340h1v19h-1zM295 356h2v1h-2zM298 344h2v1h-2zM300 311h1v34h-1zM298 342h2v1h-2zM301 311h2v1h-2zM304 300h1v15h-1zM302 308h2v1h-2zM305 301h2v1h-2zM311 308h1v10h-1zM309 311h2v1h-2zM312 310h2v1h-2zM321 321h1v16h-1zM319 328h2v1h-2zM322 322h2v1h-2zM325 319h1v10h-1zM323 325h2v1h-2zM326 322h2v1h-2zM329 312h1v15h-1zM327 321h2v1h-2zM330 314h2v1h-2zM346 346h1v18h-1zM344 362h2v1h-2zM347 350h2v1h-2zM350 345h1v16h-1zM348 350h2v1h-2zM351 348h2v1h-2zM360 361h1v26h-1zM358 373h2v1h-2zM361 362h2v1h-2zM368 347h1v18h-1zM366 358h2v1h-2zM369 348h2v1h-2zM382 385h1v34h-1zM380 416h2v1h-2zM383 393h2v1h-2zM385 386h1v13h-1zM383 392h2v1h-2zM386 389h2v1h-2zM396 403h1v21h-1zM394 419h2v1h-2zM397 404h2v1h-2zM406 416h1v31h-1zM404 434h2v1h-2zM407 418h2v1h-2zM414 419h1v27h-1zM412 443h2v1h-2zM415 421h2v1h-2zM421 411h1v15h-1zM419 419h2v1h-2zM422 413h2v1h-2zM424 410h1v10h-1zM422 416h2v1h-2zM425 414h2v1h-2zM428 371h1v20h-1zM426 389h2v1h-2zM429 379h2v1h-2zM431 366h1v17h-1zM429 380h2v1h-2zM432 370h2v1h-2zM435 364h1v17h-1zM433 375h2v1h-2zM436 366h2v1h-2zM438 356h1v12h-1zM436 363h2v1h-2zM439 358h2v1h-2zM445 371h1v14h-1zM443 378h2v1h-2zM446 377h2v1h-2zM460 415h1v23h-1zM458 436h2v1h-2zM461 416h2v1h-2zM467 404h1v22h-1zM465 416h2v1h-2zM468 406h2v1h-2zM470 376h1v27h-1zM468 401h2v1h-2zM471 385h2v1h-2zM474 392h1v25h-1zM472 402h2v1h-2zM475 394h2v1h-2zM477 387h1v15h-1zM475 399h2v1h-2zM478 392h2v1h-2zM481 386h1v9h-1zM479 390h2v1h-2zM482 388h2v1h-2zM484 370h1v12h-1zM482 374h2v1h-2zM485 378h2v1h-2zM488 370h1v10h-1zM486 372h2v1h-2zM489 373h2v1h-2zM491 359h1v11h-1zM489 366h2v1h-2zM492 360h2v1h-2zM499 344h1v22h-1zM497 365h2v1h-2zM500 346h2v1h-2zM502 335h1v8h-1zM500 342h2v1h-2zM503 336h2v1h-2zM506 323h1v14h-1zM504 336h2v1h-2zM507 326h2v1h-2zM537 388h1v17h-1zM535 400h2v1h-2zM538 391h2v1h-2zM541 384h1v18h-1zM539 400h2v1h-2zM542 385h2v1h-2zM545 364h1v23h-1zM543 382h2v1h-2zM546 364h2v1h-2zM548 349h1v18h-1zM546 364h2v1h-2zM549 360h2v1h-2zM555 352h1v20h-1zM553 367h2v1h-2zM556 352h2v1h-2zM559 337h1v19h-1zM557 353h2v1h-2zM560 340h2v1h-2zM569 332h1v25h-1zM567 353h2v1h-2zM570 336h2v1h-2zM573 303h1v28h-1zM571 328h2v1h-2zM574 308h2v1h-2zM577 293h1v23h-1zM575 307h2v1h-2zM578 294h2v1h-2zM580 270h1v15h-1zM578 280h2v1h-2zM581 275h2v1h-2zM584 268h1v13h-1zM582 277h2v1h-2zM585 270h2v1h-2zM587 249h1v27h-1zM585 272h2v1h-2zM588 254h2v1h-2zM594 260h1v13h-1zM592 270h2v1h-2zM595 264h2v1h-2zM601 250h1v15h-1zM599 262h2v1h-2zM602 254h2v1h-2zM612 283h1v18h-1zM610 294h2v1h-2zM613 288h2v1h-2zM626 300h1v18h-1zM624 317h2v1h-2zM627 308h2v1h-2zM630 293h1v31h-1zM628 303h2v1h-2zM631 294h2v1h-2zM633 268h1v19h-1zM631 279h2v1h-2zM634 269h2v1h-2zM637 260h1v23h-1zM635 272h2v1h-2zM638 273h2v1h-2zM640 267h1v24h-1zM638 274h2v1h-2zM641 270h2v1h-2zM644 258h1v14h-1zM642 266h2v1h-2zM645 259h2v1h-2zM651 253h1v25h-1zM649 269h2v1h-2zM652 254h2v1h-2zM654 233h1v22h-1zM652 246h2v1h-2zM655 238h2v1h-2zM669 237h1v42h-1zM667 278h2v1h-2zM670 237h2v1h-2zM672 226h1v20h-1zM670 237h2v1h-2zM673 231h2v1h-2zM690 250h1v19h-1zM688 262h2v1h-2zM691 257h2v1h-2zM693 238h1v25h-1zM691 259h2v1h-2zM694 239h2v1h-2zM708 270h1v27h-1zM706 286h2v1h-2zM709 271h2v1h-2zM711 255h1v14h-1zM709 263h2v1h-2zM712 256h2v1h-2zM729 262h1v13h-1zM727 270h2v1h-2zM730 264h2v1h-2zM732 241h1v15h-1zM730 255h2v1h-2zM733 242h2v1h-2zM736 235h1v14h-1zM734 238h2v1h-2zM737 240h2v1h-2zM754 238h1v28h-1zM752 263h2v1h-2zM755 241h2v1h-2zM757 239h1v9h-1zM755 243h2v1h-2zM758 245h2v1h-2zM761 223h1v25h-1zM759 243h2v1h-2zM762 224h2v1h-2zM782 282h1v39h-1zM780 297h2v1h-2zM783 284h2v1h-2zM793 275h1v25h-1zM791 294h2v1h-2zM794 294h2v1h-2zM807 324h1v31h-1zM805 334h2v1h-2zM808 334h2v1h-2zM814 347h1v34h-1zM812 365h2v1h-2zM815 347h2v1h-2zM817 332h1v24h-1zM815 343h2v1h-2zM818 334h2v1h-2zM821 322h1v34h-1zM819 345h2v1h-2zM822 325h2v1h-2zM832 362h1v48h-1zM830 394h2v1h-2zM833 363h2v1h-2zM835 223h1v78h-1zM833 291h2v1h-2zM836 225h2v1h-2zM839 282h1v28h-1zM837 297h2v1h-2zM840 286h2v1h-2zM846 294h1v24h-1zM844 304h2v1h-2zM847 295h2v1h-2zM849 270h1v17h-1zM847 274h2v1h-2zM850 272h2v1h-2zM853 262h1v15h-1zM851 269h2v1h-2zM854 265h2v1h-2zM856 260h1v12h-1zM854 265h2v1h-2zM857 265h2v1h-2zM867 295h1v38h-1zM865 325h2v1h-2zM868 296h2v1h-2zM871 288h1v22h-1zM869 302h2v1h-2zM872 292h2v1h-2zM874 280h1v21h-1zM872 288h2v1h-2zM875 281h2v1h-2zM881 299h1v32h-1zM879 329h2v1h-2zM882 309h2v1h-2zM885 287h1v18h-1zM883 296h2v1h-2zM886 292h2v1h-2zM892 300h1v25h-1zM890 315h2v1h-2zM893 315h2v1h-2zM895 309h1v19h-1zM893 317h2v1h-2zM896 316h2v1h-2zM910 390h1v36h-1zM908 416h2v1h-2zM911 399h2v1h-2zM920 453h1v25h-1zM918 456h2v1h-2zM921 456h2v1h-2zM934 542h1v63h-1zM932 585h2v1h-2zM935 552h2v1h-2zM938 526h1v34h-1zM936 540h2v1h-2zM939 532h2v1h-2zM941 502h1v27h-1zM939 527h2v1h-2zM942 510h2v1h-2zM948 560h1v32h-1zM946 586h2v1h-2zM949 586h2v1h-2zM956 592h1v50h-1zM954 611h2v1h-2zM957 607h2v1h-2zM959 546h1v47h-1zM957 591h2v1h-2zM960 563h2v1h-2z" fill="#008000"/>
<rect x="106.5" y="734.5" width="6" height="6" fill="#ff0000" stroke="#000" stroke-width="1"/>
<rect x="81" y="46" width="1" height="712" fill="#ff0000"/>
<rect x="109" y="46" width="1" height="712" fill="#0000ff"/>
<rect x="297" y="46" width="1" height="712" fill="#0000ff"/>
<rect x="431" y="46" width="1" height="712" fill="#0000ff"/>
<rect x="509" y="46" width="1" height="712" fill="#0000ff"/>
<rect x="537" y="46" width="1" height="712" fill="#ff0000"/>
<rect x="622" y="46" width="1" height="712" fill="#ff0000"/>
<rect x="754" y="46" width="1" height="712" fill="#0000ff"/>
<rect x="945" y="46" width="1" height="712" fill="#0000ff"/>
<rect x="966" y="46" width="1" height="712" fill="#0000ff"/>
<rect x="1079" y="46" width="1" height="712" fill="#ff0000"/>
</g>
<rect x="1304" y="18" width="1" height="742" fill="#000080"/>
<rect x="0" y="759" width="1305" height="1" fill="#000080"/>
<text x="1312" y="759.3">21600.00</text>
<text x="1312" y="736.8">21800.00</text>
<text x="1312" y="714.3">22000.00</text>
<text x="1312" y="691.8">22200.00</text>
<text x="1312" y="669.3">22400.00</text>
<text x="1312" y="646.8">22600.00</text>
<text x="1312" y="624.3">22800.00</text>
<text x="1312" y="601.8">23000.00</text>
<text x="1312" y="579.3">23200.00</text>
<text x="1312" y="556.8">23400.00</text>
<text x="1312" y="534.3">23600.00</text>
<text x="1312" y="511.8">23800.00</text>
<text x="1312" y="489.3">24000.00</text>
<text x="1312" y="466.8">24200.00</text>
<text x="1312" y="444.3">24400.00</text>
<text x="1312" y="421.8">24600.00</text>
<text x="1312" y="399.4">24800.00</text>
<text x="1312" y="376.9">25000.00</text>
<text x="1312" y="354.4">25200.00</text>
<text x="1312" y="331.9">25400.00</text>
<text x="1312" y="309.4">25600.00</text>
<text x="1312" y="286.9">25800.00</text>
<text x="1312" y="264.4">26000.00</text>
<text x="1312" y="241.9">26200.00</text>
<text x="1312" y="219.4">26400.00</text>
<text x="1312" y="196.9">26600.00</text>
<text x="1312" y="174.4">26800.00</text>
<text x="1312" y="151.9">27000.00</text>
<text x="1312" y="129.4">27200.00</text>
<text x="1312" y="106.9">27400.00</text>
<text x="1312" y="84.4">27600.00</text>
<text x="1312" y="61.9">27800.00</text>
<text x="1312" y="39.4">28000.00</text>
<path d="M1305 751h2v1h-2zM1305 746h2v1h-2zM1305 742h2v1h-2zM1305 737h2v1h-2zM1305 728h2v1h-2zM1305 724h2v1h-2zM1305 719h2v1h-2zM1305 715h2v1h-2zM1305 706h2v1h-2zM1305 701h2v1h-2zM1305 697h2v1h-2zM1305 692h2v1h-2zM1305 683h2v1h-2zM1305 679h2v1h-2zM1305 674h2v1h-2zM1305 670h2v1h-2zM1305 661h2v1h-2zM1305 656h2v1h-2zM1305 652h2v1h-2zM1305 647h2v1h-2zM1305 638h2v1h-2zM1305 634h2v1h-2zM1305 629h2v1h-2zM1305 625h2v1h-2zM1305 616h2v1h-2zM1305 611h2v1h-2zM1305 607h2v1h-2zM1305 602h2v1h-2zM1305 593h2v1h-2zM1305 589h2v1h-2zM1305 584h2v1h-2zM1305 580h2v1h-2zM1305 571h2v1h-2zM1305 566h2v1h-2zM1305 562h2v1h-2zM1305 557h2v1h-2zM1305 548h2v1h-2zM1305 544h2v1h-2zM1305 539h2v1h-2zM1305 535h2v1h-2zM1305 526h2v1h-2zM1305 521h2v1h-2zM1305 517h2v1h-2zM1305 512h2v1h-2zM1305 503h2v1h-2zM1305 499h2v1h-2zM1305 494h2v1h-2zM1305 490h2v1h-2zM1305 481h2v1h-2zM1305 476h2v1h-2zM1305 472h2v1h-2zM1305 467h2v1h-2zM1305 458h2v1h-2zM1305 454h2v1h-2zM1305 449h2v1h-2zM1305 445h2v1h-2zM1305 436h2v1h-2zM1305 431h2v1h-2zM1305 427h2v1h-2zM1305 422h2v1h-2zM1305 413h2v1h-2zM1305 409h2v1h-2zM1305 404h2v1h-2zM1305 400h2v1h-2zM1305 391h2v1h-2zM1305 386h2v1h-2zM1305 382h2v1h-2zM1305 377h2v1h-2zM1305 368h2v1h-2zM1305 364h2v1h-2zM1305 359h2v1h-2zM1305 355h2v1h-2zM1305 346h2v1h-2zM1305 341h2v1h-2zM1305 337h2v1h-2zM1305 332h2v1h-2zM1305 323h2v1h-2zM1305 319h2v1h-2zM1305 314h2v1h-2zM1305 310h2v1h-2zM1305 301h2v1h-2zM1305 296h2v1h-2zM1305 292h2v1h-2zM1305 287h2v1h-2zM1305 278h2v1h-2zM1305 274h2v1h-2zM1305 269h2v1h-2zM1305 265h2v1h-2zM1305 256h2v1h-2zM1305 251h2v1h-2zM1305 247h2v1h-2zM1305 242h2v1h-2zM1305 233h2v1h-2zM1305 229h2v1h-2zM1305 224h2v1h-2zM1305 220h2v1h-2zM1305 211h2v1h-2zM1305 206h2v1h-2zM1305 202h2v1h-2zM1305 197h2v1h-2zM1305 188h2v1h-2zM1305 184h2v1h-2zM1305 179h2v1h-2zM1305 175h2v1h-2zM1305 166h2v1h-2zM1305 161h2v1h-2zM1305 157h2v1h-2zM1305 152h2v1h-2zM1305 143h2v1h-2zM1305 139h2v1h-2zM1305 134h2v1h-2zM1305 130h2v1h-2zM1305 121h2v1h-2zM1305 116h2v1h-2zM1305 112h2v1h-2zM1305 107h2v1h-2zM1305 98h2v1h-2zM1305 94h2v1h-2zM1305 89h2v1h-2zM1305 85h2v1h-2zM1305 76h2v1h-2zM1305 71h2v1h-2zM1305 67h2v1h-2zM1305 62h2v1h-2zM1305 53h2v1h-2zM1305 49h2v1h-2zM1305 44h2v1h-2zM1305 40h2v1h-2zM1305 31h2v1h-2zM1305 26h2v1h-2zM1305 22h2v1h-2z" fill="#555555"/>
<path d="M1305 755h6v1h-6zM1305 733h6v1h-6zM1305 710h6v1h-6zM1305 688h6v1h-6zM1305 665h6v1h-6zM1305 643h6v1h-6zM1305 620h6v1h-6zM1305 598h6v1h-6zM1305 575h6v1h-6zM1305 553h6v1h-6zM1305 530h6v1h-6zM1305 508h6v1h-6zM1305 485h6v1h-6zM1305 463h6v1h-6zM1305 440h6v1h-6zM1305 418h6v1h-6zM1305 395h6v1h-6zM1305 373h6v1h-6zM1305 350h6v1h-6zM1305 328h6v1h-6zM1305 305h6v1h-6zM1305 283h6v1h-6zM1305 260h6v1h-6zM1305 238h6v1h-6zM1305 215h6v1h-6zM1305 193h6v1h-6zM1305 170h6v1h-6zM1305 148h6v1h-6zM1305 125h6v1h-6zM1305 103h6v1h-6zM1305 80h6v1h-6zM1305 58h6v1h-6zM1305 35h6v1h-6z" fill="#777777"/>
<text x="32.5" y="776.3" text-anchor="middle">04-03-2025</text>
<text x="114.0" y="776.3" text-anchor="middle">08-04-2025</text>
<text x="195.4" y="776.3" text-anchor="middle">15-05-2025</text>
<text x="276.9" y="776.3" text-anchor="middle">17-06-2025</text>
<text x="358.3" y="776.3" text-anchor="middle">18-07-2025</text>
<text x="439.8" y="776.3" text-anchor="middle">21-08-2025</text>
<text x="521.2" y="776.3" text-anchor="middle">24-09-2025</text>
<text x="602.6" y="776.3" text-anchor="middle">29-10-2025</text>
<text x="684.1" y="776.3" text-anchor="middle">02-12-2025</text>
<text x="765.5" y="776.3" text-anchor="middle">05-01-2026</text>
<text x="847.0" y="776.3" text-anchor="middle">06-02-2026</text>
<text x="928.5" y="776.3" text-anchor="middle">12-03-2026</text>
<text x="1009.9" y="776.3" text-anchor="middle">15-04-2026</text>
<text x="1091.3" y="776.3" text-anchor="middle">18-05-2026</text>
<text x="1172.8" y="776.3" text-anchor="middle">18-06-2026</text>
<text x="1254.2" y="776.3" text-anchor="middle">21-07-2026</text>
<path d="M16 760h1v2h-1zM32 760h1v4h-1zM48 760h1v2h-1zM65 760h1v2h-1zM81 760h1v2h-1zM97 760h1v2h-1zM113 760h1v4h-1zM130 760h1v2h-1zM146 760h1v2h-1zM162 760h1v2h-1zM179 760h1v2h-1zM195 760h1v4h-1zM211 760h1v2h-1zM227 760h1v2h-1zM244 760h1v2h-1zM260 760h1v2h-1zM276 760h1v4h-1zM293 760h1v2h-1zM309 760h1v2h-1zM325 760h1v2h-1zM342 760h1v2h-1zM358 760h1v4h-1zM374 760h1v2h-1zM390 760h1v2h-1zM407 760h1v2h-1zM423 760h1v2h-1zM439 760h1v4h-1zM456 760h1v2h-1zM472 760h1v2h-1zM488 760h1v2h-1zM504 760h1v2h-1zM521 760h1v4h-1zM537 760h1v2h-1zM553 760h1v2h-1zM570 760h1v2h-1zM586 760h1v2h-1zM602 760h1v4h-1zM618 760h1v2h-1zM635 760h1v2h-1zM651 760h1v2h-1zM667 760h1v2h-1zM684 760h1v4h-1zM700 760h1v2h-1zM716 760h1v2h-1zM732 760h1v2h-1zM749 760h1v2h-1zM765 760h1v4h-1zM781 760h1v2h-1zM798 760h1v2h-1zM814 760h1v2h-1zM830 760h1v2h-1zM846 760h1v4h-1zM863 760h1v2h-1zM879 760h1v2h-1zM895 760h1v2h-1zM912 760h1v2h-1zM928 760h1v4h-1zM944 760h1v2h-1zM961 760h1v2h-1zM977 760h1v2h-1zM993 760h1v2h-1zM1009 760h1v4h-1zM1026 760h1v2h-1zM1042 760h1v2h-1zM1058 760h1v2h-1zM1075 760h1v2h-1zM1091 760h1v4h-1zM1107 760h1v2h-1zM1123 760h1v2h-1zM1140 760h1v2h-1zM1156 760h1v2h-1zM1172 760h1v4h-1zM1189 760h1v2h-1zM1205 760h1v2h-1zM1221 760h1v2h-1zM1237 760h1v2h-1zM1254 760h1v4h-1zM1270 760h1v2h-1zM1286 760h1v2h-1zM1303 760h1v2h-1z" fill="#707070"/>
<text x="81.5" y="29.3" text-anchor="middle">331</text>
<text class="v" transform="translate(86.0,45.9) rotate(90)">Tue 25 Mar 25</text>
<text x="297.5" y="29.3" text-anchor="middle">182</text>
<text class="v" transform="translate(302.0,44.9) rotate(90)">Wed 25 Jun 25</text>
<text x="431.5" y="29.3" text-anchor="middle">91</text>
<text class="v" transform="translate(436.0,45.9) rotate(90)">Tue 19 Aug 25</text>
<text x="509.5" y="29.3" text-anchor="middle">242</text>
<text class="v" transform="translate(514.0,45.9) rotate(90)">Fri 19 Sep 25</text>
<text x="537.5" y="29.3" text-anchor="middle">121</text>
<text class="v" transform="translate(542.0,44.9) rotate(90)">Wed 1 Oct 25</text>
<text x="622.5" y="29.3" text-anchor="middle">274</text>
<text class="v" transform="translate(627.0,45.9) rotate(90)">Fri 7 Nov 25</text>
<text x="754.5" y="29.3" text-anchor="middle">182</text>
<text class="v" transform="translate(759.0,44.9) rotate(90)">Wed 31 Dec 25</text>
<text x="945.5" y="29.3" text-anchor="middle">365</text>
<text class="v" transform="translate(950.0,45.9) rotate(90)">Thu 19 Mar 26</text>
<text x="966.5" y="29.3" text-anchor="middle">242</text>
<text class="v" transform="translate(971.0,45.9) rotate(90)">Mon 30 Mar 26</text>
<text x="1079.5" y="29.3" text-anchor="middle">274</text>
<text class="v" transform="translate(1084.0,44.9) rotate(90)">Wed 13 May 26</text>
<text x="108.2" y="28.8" text-anchor="middle">Gann Bars Start</text>
<text x="109.5" y="42.8" text-anchor="middle">Mon 7 Apr 25</text>
<text x="685.6" y="29.2">4:1</text>
<text x="873.4" y="29.2">3:1</text>
<text x="1249.9" y="29.2">2:1</text>
<text x="1299.3" y="227.8" text-anchor="end">4:3</text>
<text x="1299.3" y="353.6" text-anchor="end">1:1</text>
<text x="1299.3" y="448.6" text-anchor="end">3:4</text>
<text x="1299.3" y="543.8" text-anchor="end">1:2</text>
<text x="1299.3" y="607.6" text-anchor="end">1:3</text>
<text x="1299.3" y="638.6" text-anchor="end">1:4</text>
</svg></body></html>
